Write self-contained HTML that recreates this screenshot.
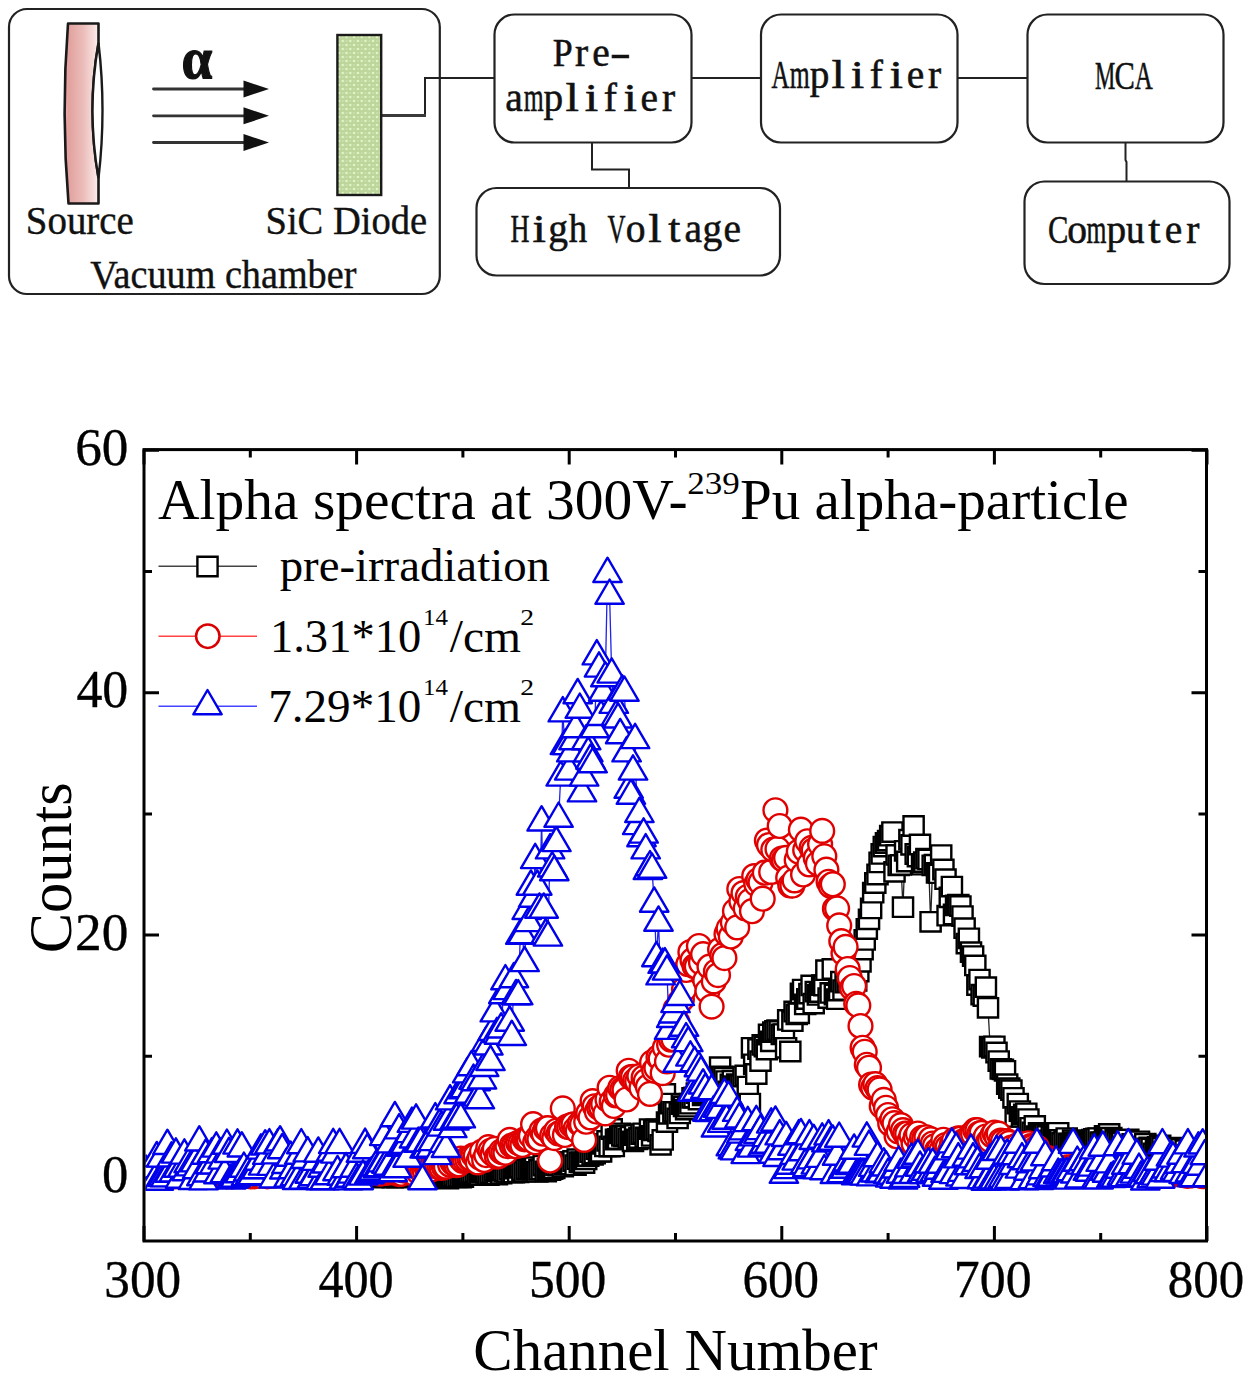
<!DOCTYPE html><html><head><meta charset="utf-8"><style>html,body{margin:0;padding:0;background:#fff;overflow:hidden}svg{display:block}</style></head><body>
<svg width="1250" height="1379" viewBox="0 0 1250 1379">
<defs>
<clipPath id="pc"><rect x="145.5" y="451" width="1059.5" height="788.5"/></clipPath>
<linearGradient id="pk" x1="0" x2="1" y1="0" y2="0"><stop offset="0" stop-color="#f6a8a8"/><stop offset="0.12" stop-color="#e2a19e"/><stop offset="0.55" stop-color="#ebbdba"/><stop offset="0.9" stop-color="#f7e2e0"/><stop offset="1" stop-color="#fdf3f3"/></linearGradient>
<pattern id="dots" width="7.6" height="8" patternUnits="userSpaceOnUse" x="337" y="35"><rect width="7.6" height="8" fill="#bcd59a"/><circle cx="1.9" cy="2" r="1.3" fill="#e3f4c6"/><circle cx="5.7" cy="6" r="1.3" fill="#e3f4c6"/><circle cx="5.7" cy="2" r="0.9" fill="#cfe3b0"/><circle cx="1.9" cy="6" r="0.9" fill="#cfe3b0"/></pattern>
<path id="sq" d="M-10.1,-9.7h20.2v19.4h-20.2z" fill="#fff" stroke="#000" stroke-width="2.4"/>
<circle id="ci" r="11.9" fill="#fff" stroke="#e00000" stroke-width="2.4"/>
<path id="tr" d="M0,-16.2L14.2,8.1L-14.2,8.1z" fill="#fff" stroke="#0000ea" stroke-width="2.4" stroke-linejoin="round"/>
</defs>
<rect width="1250" height="1379" fill="#fff"/>
<g fill="none" stroke="#222" stroke-width="2.2">
<rect x="9" y="9" width="430.8" height="285" rx="18"/>
<rect x="494.5" y="14.5" width="197" height="128" rx="20"/>
<rect x="761" y="14.5" width="196.5" height="128" rx="20"/>
<rect x="1027.5" y="14.5" width="196" height="128" rx="20"/>
<rect x="476.5" y="188" width="303.5" height="87.5" rx="20"/>
<rect x="1024.5" y="181.5" width="205" height="102.5" rx="20"/>
</g>
<g fill="none" stroke="#222" stroke-width="2">
<polyline points="425,115.5 425,78 494.5,78"/>
<line x1="382" y1="115.5" x2="426" y2="115.5" stroke="#3a3a3a" stroke-width="2.8"/>
<line x1="691.5" y1="78" x2="761" y2="78"/>
<line x1="957.5" y1="78" x2="1027.5" y2="78"/>
<polyline points="592,142.5 592,169.5 629,169.5 629,188"/>
<polyline points="1125.5,142.5 1125.5,160 1126.5,162 1126.5,181.5"/>
</g>
<path d="M68,23.5 L98.5,23.5 L98.5,43 Q86.5,110.5 98.5,178 L98.5,203.5 L68.5,203.5 Q61,113.5 68,23.5 Z" fill="url(#pk)" stroke="#1a1a1a" stroke-width="2.6" stroke-linejoin="round"/>
<path d="M98.5,43 Q86.5,110.5 98.5,178 Q106.5,110.5 98.5,43 Z" fill="#fff" stroke="#1a1a1a" stroke-width="2.4"/>
<rect x="337.4" y="35" width="43.8" height="160" fill="url(#dots)" stroke="#1a1a1a" stroke-width="2.4"/>
<line x1="153.5" y1="89.0" x2="246" y2="89.0" stroke="#333" stroke-width="2.8" stroke-linecap="round"/>
<path d="M243.5,80.5 L269,89.0 L243.5,97.5 Z" fill="#111"/>
<line x1="153.5" y1="115.8" x2="246" y2="115.8" stroke="#333" stroke-width="2.8" stroke-linecap="round"/>
<path d="M243.5,107.3 L269,115.8 L243.5,124.3 Z" fill="#111"/>
<line x1="153.5" y1="142.5" x2="246" y2="142.5" stroke="#333" stroke-width="2.8" stroke-linecap="round"/>
<path d="M243.5,134.0 L269,142.5 L243.5,151.0 Z" fill="#111"/>
<text x="181.54" y="78.4" font-family="&apos;Liberation Serif&apos;, serif" font-size="59" font-weight="bold" fill="#111" stroke="#111" stroke-width="1.2" textLength="30.85" lengthAdjust="spacingAndGlyphs">&#945;</text>
<text x="25.84" y="233.6" font-family="&apos;Liberation Serif&apos;, serif" font-size="39.5" fill="#111" stroke="#111" stroke-width="0.4" textLength="108.03" lengthAdjust="spacingAndGlyphs" >Source</text>
<text x="265.46" y="233.6" font-family="&apos;Liberation Serif&apos;, serif" font-size="39.5" fill="#111" stroke="#111" stroke-width="0.4" textLength="161.70" lengthAdjust="spacingAndGlyphs" >SiC Diode</text>
<text x="90.21" y="287.6" font-family="&apos;Liberation Serif&apos;, serif" font-size="39.5" fill="#111" stroke="#111" stroke-width="0.4" textLength="266.16" lengthAdjust="spacingAndGlyphs" >Vacuum chamber</text>
<g font-family="&apos;Liberation Serif&apos;, serif" font-size="39.5" fill="#111" stroke="#111" stroke-width="0.55"><text x="552.70" y="66" textLength="19.92" lengthAdjust="spacingAndGlyphs">P</text><text x="574.95" y="66" textLength="13.15" lengthAdjust="spacingAndGlyphs">r</text><text x="592.20" y="66" textLength="17.53" lengthAdjust="spacingAndGlyphs">e</text><text x="609.67" y="66" textLength="21.28" lengthAdjust="spacingAndGlyphs">-</text></g>
<g font-family="&apos;Liberation Serif&apos;, serif" font-size="39.5" fill="#111" stroke="#111" stroke-width="0.55"><text x="505.15" y="110.8" textLength="17.53" lengthAdjust="spacingAndGlyphs">a</text><text x="523.63" y="110.8" textLength="19.92" lengthAdjust="spacingAndGlyphs">m</text><text x="543.60" y="110.8" textLength="19.64" lengthAdjust="spacingAndGlyphs">p</text><text x="565.52" y="110.8" textLength="13.43" lengthAdjust="spacingAndGlyphs">l</text><text x="584.82" y="110.8" textLength="13.43" lengthAdjust="spacingAndGlyphs">i</text><text x="603.65" y="110.8" textLength="13.15" lengthAdjust="spacingAndGlyphs">f</text><text x="623.42" y="110.8" textLength="13.43" lengthAdjust="spacingAndGlyphs">i</text><text x="640.60" y="110.8" textLength="17.53" lengthAdjust="spacingAndGlyphs">e</text><text x="661.95" y="110.8" textLength="13.15" lengthAdjust="spacingAndGlyphs">r</text></g>
<g font-family="&apos;Liberation Serif&apos;, serif" font-size="39.5" fill="#111" stroke="#111" stroke-width="0.55"><text x="771.40" y="88.4" textLength="17.96" lengthAdjust="spacingAndGlyphs">A</text><text x="789.68" y="88.4" textLength="19.92" lengthAdjust="spacingAndGlyphs">m</text><text x="809.65" y="88.4" textLength="19.64" lengthAdjust="spacingAndGlyphs">p</text><text x="831.57" y="88.4" textLength="13.43" lengthAdjust="spacingAndGlyphs">l</text><text x="850.87" y="88.4" textLength="13.43" lengthAdjust="spacingAndGlyphs">i</text><text x="869.70" y="88.4" textLength="13.15" lengthAdjust="spacingAndGlyphs">f</text><text x="889.47" y="88.4" textLength="13.43" lengthAdjust="spacingAndGlyphs">i</text><text x="906.65" y="88.4" textLength="17.53" lengthAdjust="spacingAndGlyphs">e</text><text x="928.00" y="88.4" textLength="13.15" lengthAdjust="spacingAndGlyphs">r</text></g>
<g font-family="&apos;Liberation Serif&apos;, serif" font-size="39.5" fill="#111" stroke="#111" stroke-width="0.55"><text x="1094.96" y="88.9" textLength="20.28" lengthAdjust="spacingAndGlyphs">M</text><text x="1114.41" y="88.9" textLength="20.40" lengthAdjust="spacingAndGlyphs">C</text><text x="1134.70" y="88.9" textLength="17.96" lengthAdjust="spacingAndGlyphs">A</text></g>
<g font-family="&apos;Liberation Serif&apos;, serif" font-size="39.5" fill="#111" stroke="#111" stroke-width="0.55"><text x="510.47" y="242.1" textLength="18.98" lengthAdjust="spacingAndGlyphs">H</text><text x="532.52" y="242.1" textLength="13.43" lengthAdjust="spacingAndGlyphs">i</text><text x="548.20" y="242.1" textLength="19.75" lengthAdjust="spacingAndGlyphs">g</text><text x="568.73" y="242.1" textLength="18.38" lengthAdjust="spacingAndGlyphs">h</text><text x="607.45" y="242.1" textLength="18.02" lengthAdjust="spacingAndGlyphs">V</text><text x="625.85" y="242.1" textLength="19.75" lengthAdjust="spacingAndGlyphs">o</text><text x="648.32" y="242.1" textLength="13.43" lengthAdjust="spacingAndGlyphs">l</text><text x="668.16" y="242.1" textLength="12.14" lengthAdjust="spacingAndGlyphs">t</text><text x="684.45" y="242.1" textLength="17.53" lengthAdjust="spacingAndGlyphs">a</text><text x="702.60" y="242.1" textLength="19.75" lengthAdjust="spacingAndGlyphs">g</text><text x="723.40" y="242.1" textLength="17.53" lengthAdjust="spacingAndGlyphs">e</text></g>
<g font-family="&apos;Liberation Serif&apos;, serif" font-size="39.5" fill="#111" stroke="#111" stroke-width="0.55"><text x="1047.91" y="242.6" textLength="20.40" lengthAdjust="spacingAndGlyphs">C</text><text x="1067.30" y="242.6" textLength="19.75" lengthAdjust="spacingAndGlyphs">o</text><text x="1086.48" y="242.6" textLength="19.92" lengthAdjust="spacingAndGlyphs">m</text><text x="1106.45" y="242.6" textLength="19.64" lengthAdjust="spacingAndGlyphs">p</text><text x="1125.88" y="242.6" textLength="18.58" lengthAdjust="spacingAndGlyphs">u</text><text x="1148.21" y="242.6" textLength="12.14" lengthAdjust="spacingAndGlyphs">t</text><text x="1164.85" y="242.6" textLength="17.53" lengthAdjust="spacingAndGlyphs">e</text><text x="1186.20" y="242.6" textLength="13.15" lengthAdjust="spacingAndGlyphs">r</text></g>
<path d="M144.0,1241v-15M144.0,449.6v15M250.3,1241v-8M250.3,449.6v8M356.6,1241v-15M356.6,449.6v15M462.9,1241v-8M462.9,449.6v8M569.2,1241v-15M569.2,449.6v15M675.5,1241v-8M675.5,449.6v8M781.8,1241v-15M781.8,449.6v15M888.1,1241v-8M888.1,449.6v8M994.4,1241v-15M994.4,449.6v15M1100.7,1241v-8M1100.7,449.6v8M1207.0,1241v-15M1207.0,449.6v15M144,1177.5h15M1206.5,1177.5h-15M144,1056.3h8M1206.5,1056.3h-8M144,935.1h15M1206.5,935.1h-15M144,813.9h8M1206.5,813.9h-8M144,692.7h15M1206.5,692.7h-15M144,571.5h8M1206.5,571.5h-8M144,450.3h15M1206.5,450.3h-15" stroke="#000" stroke-width="3" fill="none"/>
<g clip-path="url(#pc)">
<polyline points="144.0,1172.8 146.1,1172.6 148.3,1174.4 150.4,1175.5 152.5,1176.0 154.6,1174.5 156.8,1175.9 158.9,1176.5 161.0,1174.3 163.1,1174.4 165.3,1173.9 167.4,1175.8 169.5,1174.6 171.6,1174.7 173.8,1176.6 175.9,1174.0 178.0,1174.3 180.1,1172.6 182.3,1174.4 184.4,1174.9 186.5,1173.1 188.6,1174.5 190.8,1173.6 192.9,1175.3 195.0,1174.5 197.2,1173.5 199.3,1173.9 201.4,1174.7 203.5,1176.2 205.7,1174.3 207.8,1174.8 209.9,1174.0 212.0,1174.6 214.2,1173.5 216.3,1175.0 218.4,1174.7 220.5,1174.1 222.7,1176.3 224.8,1175.5 226.9,1175.6 229.0,1173.0 231.2,1175.1 233.3,1174.2 235.4,1174.3 237.5,1175.4 239.7,1177.0 241.8,1173.9 243.9,1175.6 246.0,1174.2 248.2,1176.8 250.3,1175.7 252.4,1173.6 254.6,1173.4 256.7,1176.8 258.8,1176.8 260.9,1175.3 263.1,1174.3 265.2,1175.0 267.3,1174.9 269.4,1176.5 271.6,1174.6 273.7,1173.9 275.8,1175.8 277.9,1177.1 280.1,1176.3 282.2,1174.4 284.3,1177.3 286.4,1175.5 288.6,1176.6 290.7,1175.6 292.8,1175.7 294.9,1175.4 297.1,1173.6 299.2,1174.9 301.3,1173.9 303.4,1175.6 305.6,1176.1 307.7,1175.1 309.8,1177.4 312.0,1175.6 314.1,1175.4 316.2,1177.0 318.3,1175.0 320.5,1176.2 322.6,1177.5 324.7,1175.9 326.8,1176.8 329.0,1176.3 331.1,1175.8 333.2,1174.2 335.3,1175.6 337.5,1175.7 339.6,1175.3 341.7,1177.5 343.8,1174.3 346.0,1177.0 348.1,1175.3 350.2,1177.1 352.3,1176.9 354.5,1176.3 356.6,1174.0 358.7,1175.0 360.9,1176.5 363.0,1176.2 365.1,1177.2 367.2,1175.9 369.4,1176.5 371.5,1175.1 373.6,1177.5 375.7,1176.3 377.9,1176.9 380.0,1176.8 382.1,1175.2 384.2,1175.9 386.4,1175.4 388.5,1174.7 390.6,1174.8 392.7,1177.5 394.9,1175.5 397.0,1177.5 399.1,1176.2 401.2,1174.3 403.4,1176.3 405.5,1176.5 407.6,1176.0 409.8,1176.1 411.9,1176.1 414.0,1177.0 416.1,1175.0 418.3,1175.2 420.4,1176.4 422.5,1175.9 424.6,1175.5 426.8,1175.2 428.9,1175.9 431.0,1175.5 433.1,1176.7 435.3,1177.5 437.4,1177.1 439.5,1175.8 441.6,1176.0 443.8,1176.9 445.9,1177.5 448.0,1178.7 450.1,1177.1 452.3,1176.5 454.4,1176.0 456.5,1177.4 458.6,1176.5 460.8,1177.5 462.9,1177.0 465.0,1175.1 467.2,1174.9 469.3,1173.3 471.4,1172.5 473.5,1172.7 475.7,1171.9 477.8,1174.5 479.9,1175.2 482.0,1172.8 484.2,1171.1 486.3,1172.9 488.4,1175.0 490.5,1173.3 492.7,1172.8 494.8,1170.9 496.9,1174.5 499.0,1171.7 501.2,1173.7 503.3,1170.8 505.4,1171.5 507.5,1171.9 509.7,1169.5 511.8,1172.4 513.9,1172.6 516.0,1168.5 518.2,1172.3 520.3,1167.8 522.4,1170.3 524.6,1171.7 526.7,1169.6 528.8,1169.3 530.9,1169.0 533.1,1169.6 535.2,1167.2 537.3,1171.9 539.4,1169.9 541.6,1169.3 543.7,1165.7 545.8,1171.5 547.9,1169.0 550.1,1170.2 552.2,1169.0 554.3,1168.4 556.4,1165.4 558.6,1165.5 560.7,1162.9 562.8,1166.7 564.9,1164.5 567.1,1162.1 569.2,1162.2 571.3,1164.5 573.5,1161.0 575.6,1165.2 577.7,1159.2 579.8,1162.1 582.0,1162.3 584.1,1163.0 586.2,1159.3 588.3,1156.0 590.5,1152.2 592.6,1154.8 594.7,1153.6 596.8,1149.2 599.0,1151.5 601.1,1151.8 603.2,1143.8 605.3,1146.4 607.5,1140.9 609.6,1146.5 611.7,1129.0 613.8,1146.4 616.0,1139.5 618.1,1139.0 620.2,1133.3 622.3,1135.8 624.5,1136.4 626.6,1135.4 628.7,1138.3 630.9,1136.8 633.0,1141.3 635.1,1135.1 637.2,1139.3 639.4,1138.0 641.5,1134.1 643.6,1133.3 645.7,1137.5 647.9,1138.4 650.0,1129.1 652.1,1135.9 654.2,1130.4 656.4,1129.4 658.5,1131.3 660.6,1144.8 662.7,1139.9 664.9,1093.9 667.0,1122.1 669.1,1113.8 671.2,1103.6 673.4,1111.8 675.5,1111.9 677.6,1118.4 679.8,1113.4 681.9,1104.1 684.0,1106.4 686.1,1109.6 688.3,1106.7 690.4,1103.7 692.5,1097.8 694.6,1097.5 696.8,1093.2 698.9,1099.6 701.0,1090.3 703.1,1095.4 705.3,1093.0 707.4,1083.0 709.5,1088.4 711.6,1088.0 713.8,1086.8 715.9,1086.2 718.0,1087.8 720.1,1067.2 722.3,1076.4 724.4,1077.7 726.5,1081.1 728.6,1091.4 730.8,1084.3 732.9,1080.7 735.0,1086.2 737.2,1084.2 739.3,1084.8 741.4,1085.0 743.5,1076.7 745.7,1075.5 747.8,1086.6 749.9,1103.6 752.0,1047.8 754.2,1064.3 756.3,1074.0 758.4,1049.0 760.5,1061.1 762.7,1044.9 764.8,1046.5 766.9,1049.6 769.0,1034.5 771.2,1041.3 773.3,1032.1 775.4,1031.0 777.5,1030.1 779.7,1031.1 781.8,1034.3 783.9,1034.1 786.1,1047.8 788.2,1019.9 790.3,1051.5 792.4,1021.2 794.6,1011.5 796.7,1014.4 798.8,1013.3 800.9,993.3 803.1,989.6 805.2,1004.4 807.3,999.0 809.4,993.6 811.6,985.4 813.7,1003.6 815.8,991.7 817.9,994.9 820.1,992.1 822.2,985.1 824.3,985.5 826.4,970.2 828.6,998.1 830.7,992.9 832.8,969.0 834.9,994.5 837.1,999.2 839.2,990.5 841.3,981.7 843.5,990.1 845.6,982.7 847.7,981.5 849.8,982.2 852.0,976.6 854.1,980.3 856.2,980.9 858.3,971.5 860.5,961.8 862.6,949.6 864.7,939.9 866.8,929.0 869.0,919.3 871.1,908.4 873.2,892.7 875.3,883.0 877.5,874.5 879.6,862.4 881.7,853.9 883.8,846.6 886.0,843.0 888.1,840.6 890.2,835.7 892.4,832.1 894.5,871.8 896.6,854.9 898.7,865.3 900.9,864.9 903.0,907.2 905.1,850.8 907.2,861.5 909.4,839.7 911.5,844.8 913.6,826.0 915.7,854.0 917.9,856.6 920.0,844.5 922.1,864.7 924.2,862.1 926.4,858.7 928.5,859.4 930.6,921.8 932.7,865.4 934.9,864.7 937.0,872.9 939.1,873.2 941.2,855.1 943.4,869.5 945.5,879.2 947.6,915.7 949.8,897.3 951.9,886.6 954.0,914.4 956.1,905.4 958.3,904.7 960.4,906.1 962.5,916.1 964.6,928.2 966.8,943.6 968.9,938.3 971.0,952.2 973.1,956.1 975.3,965.4 977.4,985.0 979.5,979.6 981.6,994.6 983.8,996.0 985.9,987.2 988.0,1007.8 990.1,1046.6 992.3,1047.8 994.4,1046.3 996.5,1052.5 998.7,1061.1 1000.8,1068.9 1002.9,1069.3 1005.0,1070.8 1007.2,1084.2 1009.3,1088.2 1011.4,1090.2 1013.5,1097.8 1015.7,1116.9 1017.8,1103.6 1019.9,1111.1 1022.0,1116.9 1024.2,1114.5 1026.3,1113.3 1028.4,1119.1 1030.5,1127.8 1032.7,1132.3 1034.8,1125.9 1036.9,1136.2 1039.0,1132.9 1041.2,1134.8 1043.3,1135.3 1045.4,1133.4 1047.5,1136.0 1049.7,1140.4 1051.8,1136.3 1053.9,1136.9 1056.1,1136.2 1058.2,1132.8 1060.3,1139.9 1062.4,1142.9 1064.6,1140.9 1066.7,1138.1 1068.8,1143.5 1070.9,1143.6 1073.1,1140.2 1075.2,1142.5 1077.3,1142.3 1079.4,1143.6 1081.6,1145.1 1083.7,1145.2 1085.8,1143.3 1087.9,1142.3 1090.1,1142.4 1092.2,1139.6 1094.3,1138.8 1096.4,1138.4 1098.6,1138.1 1100.7,1142.1 1102.8,1142.4 1105.0,1135.8 1107.1,1137.9 1109.2,1133.9 1111.3,1137.7 1113.5,1142.4 1115.6,1140.0 1117.7,1141.9 1119.8,1143.3 1122.0,1143.1 1124.1,1146.4 1126.2,1142.1 1128.3,1139.4 1130.5,1145.7 1132.6,1143.9 1134.7,1148.0 1136.8,1143.4 1139.0,1141.3 1141.1,1150.2 1143.2,1147.9 1145.3,1143.7 1147.5,1148.4 1149.6,1147.5 1151.7,1148.5 1153.8,1153.5 1156.0,1149.6 1158.1,1146.8 1160.2,1145.5 1162.4,1147.9 1164.5,1151.5 1166.6,1152.0 1168.7,1154.7 1170.9,1153.5 1173.0,1149.6 1175.1,1147.7 1177.2,1151.7 1179.4,1155.6 1181.5,1149.0 1183.6,1157.4 1185.7,1150.3 1187.9,1155.1 1190.0,1153.9 1192.1,1153.6 1194.2,1155.3 1196.4,1153.3 1198.5,1157.0 1200.6,1158.4 1202.7,1159.8 1204.9,1162.2 1207.0,1161.0" fill="none" stroke="#222" stroke-width="1.3"/>
<use href="#sq" x="144.0" y="1172.8"/>
<use href="#sq" x="146.1" y="1172.6"/>
<use href="#sq" x="148.3" y="1174.4"/>
<use href="#sq" x="150.4" y="1175.5"/>
<use href="#sq" x="152.5" y="1176.0"/>
<use href="#sq" x="154.6" y="1174.5"/>
<use href="#sq" x="156.8" y="1175.9"/>
<use href="#sq" x="158.9" y="1176.5"/>
<use href="#sq" x="161.0" y="1174.3"/>
<use href="#sq" x="163.1" y="1174.4"/>
<use href="#sq" x="165.3" y="1173.9"/>
<use href="#sq" x="167.4" y="1175.8"/>
<use href="#sq" x="169.5" y="1174.6"/>
<use href="#sq" x="171.6" y="1174.7"/>
<use href="#sq" x="173.8" y="1176.6"/>
<use href="#sq" x="175.9" y="1174.0"/>
<use href="#sq" x="178.0" y="1174.3"/>
<use href="#sq" x="180.1" y="1172.6"/>
<use href="#sq" x="182.3" y="1174.4"/>
<use href="#sq" x="184.4" y="1174.9"/>
<use href="#sq" x="186.5" y="1173.1"/>
<use href="#sq" x="188.6" y="1174.5"/>
<use href="#sq" x="190.8" y="1173.6"/>
<use href="#sq" x="192.9" y="1175.3"/>
<use href="#sq" x="195.0" y="1174.5"/>
<use href="#sq" x="197.2" y="1173.5"/>
<use href="#sq" x="199.3" y="1173.9"/>
<use href="#sq" x="201.4" y="1174.7"/>
<use href="#sq" x="203.5" y="1176.2"/>
<use href="#sq" x="205.7" y="1174.3"/>
<use href="#sq" x="207.8" y="1174.8"/>
<use href="#sq" x="209.9" y="1174.0"/>
<use href="#sq" x="212.0" y="1174.6"/>
<use href="#sq" x="214.2" y="1173.5"/>
<use href="#sq" x="216.3" y="1175.0"/>
<use href="#sq" x="218.4" y="1174.7"/>
<use href="#sq" x="220.5" y="1174.1"/>
<use href="#sq" x="222.7" y="1176.3"/>
<use href="#sq" x="224.8" y="1175.5"/>
<use href="#sq" x="226.9" y="1175.6"/>
<use href="#sq" x="229.0" y="1173.0"/>
<use href="#sq" x="231.2" y="1175.1"/>
<use href="#sq" x="233.3" y="1174.2"/>
<use href="#sq" x="235.4" y="1174.3"/>
<use href="#sq" x="237.5" y="1175.4"/>
<use href="#sq" x="239.7" y="1177.0"/>
<use href="#sq" x="241.8" y="1173.9"/>
<use href="#sq" x="243.9" y="1175.6"/>
<use href="#sq" x="246.0" y="1174.2"/>
<use href="#sq" x="248.2" y="1176.8"/>
<use href="#sq" x="250.3" y="1175.7"/>
<use href="#sq" x="252.4" y="1173.6"/>
<use href="#sq" x="254.6" y="1173.4"/>
<use href="#sq" x="256.7" y="1176.8"/>
<use href="#sq" x="258.8" y="1176.8"/>
<use href="#sq" x="260.9" y="1175.3"/>
<use href="#sq" x="263.1" y="1174.3"/>
<use href="#sq" x="265.2" y="1175.0"/>
<use href="#sq" x="267.3" y="1174.9"/>
<use href="#sq" x="269.4" y="1176.5"/>
<use href="#sq" x="271.6" y="1174.6"/>
<use href="#sq" x="273.7" y="1173.9"/>
<use href="#sq" x="275.8" y="1175.8"/>
<use href="#sq" x="277.9" y="1177.1"/>
<use href="#sq" x="280.1" y="1176.3"/>
<use href="#sq" x="282.2" y="1174.4"/>
<use href="#sq" x="284.3" y="1177.3"/>
<use href="#sq" x="286.4" y="1175.5"/>
<use href="#sq" x="288.6" y="1176.6"/>
<use href="#sq" x="290.7" y="1175.6"/>
<use href="#sq" x="292.8" y="1175.7"/>
<use href="#sq" x="294.9" y="1175.4"/>
<use href="#sq" x="297.1" y="1173.6"/>
<use href="#sq" x="299.2" y="1174.9"/>
<use href="#sq" x="301.3" y="1173.9"/>
<use href="#sq" x="303.4" y="1175.6"/>
<use href="#sq" x="305.6" y="1176.1"/>
<use href="#sq" x="307.7" y="1175.1"/>
<use href="#sq" x="309.8" y="1177.4"/>
<use href="#sq" x="312.0" y="1175.6"/>
<use href="#sq" x="314.1" y="1175.4"/>
<use href="#sq" x="316.2" y="1177.0"/>
<use href="#sq" x="318.3" y="1175.0"/>
<use href="#sq" x="320.5" y="1176.2"/>
<use href="#sq" x="322.6" y="1177.5"/>
<use href="#sq" x="324.7" y="1175.9"/>
<use href="#sq" x="326.8" y="1176.8"/>
<use href="#sq" x="329.0" y="1176.3"/>
<use href="#sq" x="331.1" y="1175.8"/>
<use href="#sq" x="333.2" y="1174.2"/>
<use href="#sq" x="335.3" y="1175.6"/>
<use href="#sq" x="337.5" y="1175.7"/>
<use href="#sq" x="339.6" y="1175.3"/>
<use href="#sq" x="341.7" y="1177.5"/>
<use href="#sq" x="343.8" y="1174.3"/>
<use href="#sq" x="346.0" y="1177.0"/>
<use href="#sq" x="348.1" y="1175.3"/>
<use href="#sq" x="350.2" y="1177.1"/>
<use href="#sq" x="352.3" y="1176.9"/>
<use href="#sq" x="354.5" y="1176.3"/>
<use href="#sq" x="356.6" y="1174.0"/>
<use href="#sq" x="358.7" y="1175.0"/>
<use href="#sq" x="360.9" y="1176.5"/>
<use href="#sq" x="363.0" y="1176.2"/>
<use href="#sq" x="365.1" y="1177.2"/>
<use href="#sq" x="367.2" y="1175.9"/>
<use href="#sq" x="369.4" y="1176.5"/>
<use href="#sq" x="371.5" y="1175.1"/>
<use href="#sq" x="373.6" y="1177.5"/>
<use href="#sq" x="375.7" y="1176.3"/>
<use href="#sq" x="377.9" y="1176.9"/>
<use href="#sq" x="380.0" y="1176.8"/>
<use href="#sq" x="382.1" y="1175.2"/>
<use href="#sq" x="384.2" y="1175.9"/>
<use href="#sq" x="386.4" y="1175.4"/>
<use href="#sq" x="388.5" y="1174.7"/>
<use href="#sq" x="390.6" y="1174.8"/>
<use href="#sq" x="392.7" y="1177.5"/>
<use href="#sq" x="394.9" y="1175.5"/>
<use href="#sq" x="397.0" y="1177.5"/>
<use href="#sq" x="399.1" y="1176.2"/>
<use href="#sq" x="401.2" y="1174.3"/>
<use href="#sq" x="403.4" y="1176.3"/>
<use href="#sq" x="405.5" y="1176.5"/>
<use href="#sq" x="407.6" y="1176.0"/>
<use href="#sq" x="409.8" y="1176.1"/>
<use href="#sq" x="411.9" y="1176.1"/>
<use href="#sq" x="414.0" y="1177.0"/>
<use href="#sq" x="416.1" y="1175.0"/>
<use href="#sq" x="418.3" y="1175.2"/>
<use href="#sq" x="420.4" y="1176.4"/>
<use href="#sq" x="422.5" y="1175.9"/>
<use href="#sq" x="424.6" y="1175.5"/>
<use href="#sq" x="426.8" y="1175.2"/>
<use href="#sq" x="428.9" y="1175.9"/>
<use href="#sq" x="431.0" y="1175.5"/>
<use href="#sq" x="433.1" y="1176.7"/>
<use href="#sq" x="435.3" y="1177.5"/>
<use href="#sq" x="437.4" y="1177.1"/>
<use href="#sq" x="439.5" y="1175.8"/>
<use href="#sq" x="441.6" y="1176.0"/>
<use href="#sq" x="443.8" y="1176.9"/>
<use href="#sq" x="445.9" y="1177.5"/>
<use href="#sq" x="448.0" y="1178.7"/>
<use href="#sq" x="450.1" y="1177.1"/>
<use href="#sq" x="452.3" y="1176.5"/>
<use href="#sq" x="454.4" y="1176.0"/>
<use href="#sq" x="456.5" y="1177.4"/>
<use href="#sq" x="458.6" y="1176.5"/>
<use href="#sq" x="460.8" y="1177.5"/>
<use href="#sq" x="462.9" y="1177.0"/>
<use href="#sq" x="465.0" y="1175.1"/>
<use href="#sq" x="467.2" y="1174.9"/>
<use href="#sq" x="469.3" y="1173.3"/>
<use href="#sq" x="471.4" y="1172.5"/>
<use href="#sq" x="473.5" y="1172.7"/>
<use href="#sq" x="475.7" y="1171.9"/>
<use href="#sq" x="477.8" y="1174.5"/>
<use href="#sq" x="479.9" y="1175.2"/>
<use href="#sq" x="482.0" y="1172.8"/>
<use href="#sq" x="484.2" y="1171.1"/>
<use href="#sq" x="486.3" y="1172.9"/>
<use href="#sq" x="488.4" y="1175.0"/>
<use href="#sq" x="490.5" y="1173.3"/>
<use href="#sq" x="492.7" y="1172.8"/>
<use href="#sq" x="494.8" y="1170.9"/>
<use href="#sq" x="496.9" y="1174.5"/>
<use href="#sq" x="499.0" y="1171.7"/>
<use href="#sq" x="501.2" y="1173.7"/>
<use href="#sq" x="503.3" y="1170.8"/>
<use href="#sq" x="505.4" y="1171.5"/>
<use href="#sq" x="507.5" y="1171.9"/>
<use href="#sq" x="509.7" y="1169.5"/>
<use href="#sq" x="511.8" y="1172.4"/>
<use href="#sq" x="513.9" y="1172.6"/>
<use href="#sq" x="516.0" y="1168.5"/>
<use href="#sq" x="518.2" y="1172.3"/>
<use href="#sq" x="520.3" y="1167.8"/>
<use href="#sq" x="522.4" y="1170.3"/>
<use href="#sq" x="524.6" y="1171.7"/>
<use href="#sq" x="526.7" y="1169.6"/>
<use href="#sq" x="528.8" y="1169.3"/>
<use href="#sq" x="530.9" y="1169.0"/>
<use href="#sq" x="533.1" y="1169.6"/>
<use href="#sq" x="535.2" y="1167.2"/>
<use href="#sq" x="537.3" y="1171.9"/>
<use href="#sq" x="539.4" y="1169.9"/>
<use href="#sq" x="541.6" y="1169.3"/>
<use href="#sq" x="543.7" y="1165.7"/>
<use href="#sq" x="545.8" y="1171.5"/>
<use href="#sq" x="547.9" y="1169.0"/>
<use href="#sq" x="550.1" y="1170.2"/>
<use href="#sq" x="552.2" y="1169.0"/>
<use href="#sq" x="554.3" y="1168.4"/>
<use href="#sq" x="556.4" y="1165.4"/>
<use href="#sq" x="558.6" y="1165.5"/>
<use href="#sq" x="560.7" y="1162.9"/>
<use href="#sq" x="562.8" y="1166.7"/>
<use href="#sq" x="564.9" y="1164.5"/>
<use href="#sq" x="567.1" y="1162.1"/>
<use href="#sq" x="569.2" y="1162.2"/>
<use href="#sq" x="571.3" y="1164.5"/>
<use href="#sq" x="573.5" y="1161.0"/>
<use href="#sq" x="575.6" y="1165.2"/>
<use href="#sq" x="577.7" y="1159.2"/>
<use href="#sq" x="579.8" y="1162.1"/>
<use href="#sq" x="582.0" y="1162.3"/>
<use href="#sq" x="584.1" y="1163.0"/>
<use href="#sq" x="586.2" y="1159.3"/>
<use href="#sq" x="588.3" y="1156.0"/>
<use href="#sq" x="590.5" y="1152.2"/>
<use href="#sq" x="592.6" y="1154.8"/>
<use href="#sq" x="594.7" y="1153.6"/>
<use href="#sq" x="596.8" y="1149.2"/>
<use href="#sq" x="599.0" y="1151.5"/>
<use href="#sq" x="601.1" y="1151.8"/>
<use href="#sq" x="603.2" y="1143.8"/>
<use href="#sq" x="605.3" y="1146.4"/>
<use href="#sq" x="607.5" y="1140.9"/>
<use href="#sq" x="609.6" y="1146.5"/>
<use href="#sq" x="611.7" y="1129.0"/>
<use href="#sq" x="613.8" y="1146.4"/>
<use href="#sq" x="616.0" y="1139.5"/>
<use href="#sq" x="618.1" y="1139.0"/>
<use href="#sq" x="620.2" y="1133.3"/>
<use href="#sq" x="622.3" y="1135.8"/>
<use href="#sq" x="624.5" y="1136.4"/>
<use href="#sq" x="626.6" y="1135.4"/>
<use href="#sq" x="628.7" y="1138.3"/>
<use href="#sq" x="630.9" y="1136.8"/>
<use href="#sq" x="633.0" y="1141.3"/>
<use href="#sq" x="635.1" y="1135.1"/>
<use href="#sq" x="637.2" y="1139.3"/>
<use href="#sq" x="639.4" y="1138.0"/>
<use href="#sq" x="641.5" y="1134.1"/>
<use href="#sq" x="643.6" y="1133.3"/>
<use href="#sq" x="645.7" y="1137.5"/>
<use href="#sq" x="647.9" y="1138.4"/>
<use href="#sq" x="650.0" y="1129.1"/>
<use href="#sq" x="652.1" y="1135.9"/>
<use href="#sq" x="654.2" y="1130.4"/>
<use href="#sq" x="656.4" y="1129.4"/>
<use href="#sq" x="658.5" y="1131.3"/>
<use href="#sq" x="660.6" y="1144.8"/>
<use href="#sq" x="662.7" y="1139.9"/>
<use href="#sq" x="664.9" y="1093.9"/>
<use href="#sq" x="667.0" y="1122.1"/>
<use href="#sq" x="669.1" y="1113.8"/>
<use href="#sq" x="671.2" y="1103.6"/>
<use href="#sq" x="673.4" y="1111.8"/>
<use href="#sq" x="675.5" y="1111.9"/>
<use href="#sq" x="677.6" y="1118.4"/>
<use href="#sq" x="679.8" y="1113.4"/>
<use href="#sq" x="681.9" y="1104.1"/>
<use href="#sq" x="684.0" y="1106.4"/>
<use href="#sq" x="686.1" y="1109.6"/>
<use href="#sq" x="688.3" y="1106.7"/>
<use href="#sq" x="690.4" y="1103.7"/>
<use href="#sq" x="692.5" y="1097.8"/>
<use href="#sq" x="694.6" y="1097.5"/>
<use href="#sq" x="696.8" y="1093.2"/>
<use href="#sq" x="698.9" y="1099.6"/>
<use href="#sq" x="701.0" y="1090.3"/>
<use href="#sq" x="703.1" y="1095.4"/>
<use href="#sq" x="705.3" y="1093.0"/>
<use href="#sq" x="707.4" y="1083.0"/>
<use href="#sq" x="709.5" y="1088.4"/>
<use href="#sq" x="711.6" y="1088.0"/>
<use href="#sq" x="713.8" y="1086.8"/>
<use href="#sq" x="715.9" y="1086.2"/>
<use href="#sq" x="718.0" y="1087.8"/>
<use href="#sq" x="720.1" y="1067.2"/>
<use href="#sq" x="722.3" y="1076.4"/>
<use href="#sq" x="724.4" y="1077.7"/>
<use href="#sq" x="726.5" y="1081.1"/>
<use href="#sq" x="728.6" y="1091.4"/>
<use href="#sq" x="730.8" y="1084.3"/>
<use href="#sq" x="732.9" y="1080.7"/>
<use href="#sq" x="735.0" y="1086.2"/>
<use href="#sq" x="737.2" y="1084.2"/>
<use href="#sq" x="739.3" y="1084.8"/>
<use href="#sq" x="741.4" y="1085.0"/>
<use href="#sq" x="743.5" y="1076.7"/>
<use href="#sq" x="745.7" y="1075.5"/>
<use href="#sq" x="747.8" y="1086.6"/>
<use href="#sq" x="749.9" y="1103.6"/>
<use href="#sq" x="752.0" y="1047.8"/>
<use href="#sq" x="754.2" y="1064.3"/>
<use href="#sq" x="756.3" y="1074.0"/>
<use href="#sq" x="758.4" y="1049.0"/>
<use href="#sq" x="760.5" y="1061.1"/>
<use href="#sq" x="762.7" y="1044.9"/>
<use href="#sq" x="764.8" y="1046.5"/>
<use href="#sq" x="766.9" y="1049.6"/>
<use href="#sq" x="769.0" y="1034.5"/>
<use href="#sq" x="771.2" y="1041.3"/>
<use href="#sq" x="773.3" y="1032.1"/>
<use href="#sq" x="775.4" y="1031.0"/>
<use href="#sq" x="777.5" y="1030.1"/>
<use href="#sq" x="779.7" y="1031.1"/>
<use href="#sq" x="781.8" y="1034.3"/>
<use href="#sq" x="783.9" y="1034.1"/>
<use href="#sq" x="786.1" y="1047.8"/>
<use href="#sq" x="788.2" y="1019.9"/>
<use href="#sq" x="790.3" y="1051.5"/>
<use href="#sq" x="792.4" y="1021.2"/>
<use href="#sq" x="794.6" y="1011.5"/>
<use href="#sq" x="796.7" y="1014.4"/>
<use href="#sq" x="798.8" y="1013.3"/>
<use href="#sq" x="800.9" y="993.3"/>
<use href="#sq" x="803.1" y="989.6"/>
<use href="#sq" x="805.2" y="1004.4"/>
<use href="#sq" x="807.3" y="999.0"/>
<use href="#sq" x="809.4" y="993.6"/>
<use href="#sq" x="811.6" y="985.4"/>
<use href="#sq" x="813.7" y="1003.6"/>
<use href="#sq" x="815.8" y="991.7"/>
<use href="#sq" x="817.9" y="994.9"/>
<use href="#sq" x="820.1" y="992.1"/>
<use href="#sq" x="822.2" y="985.1"/>
<use href="#sq" x="824.3" y="985.5"/>
<use href="#sq" x="826.4" y="970.2"/>
<use href="#sq" x="828.6" y="998.1"/>
<use href="#sq" x="830.7" y="992.9"/>
<use href="#sq" x="832.8" y="969.0"/>
<use href="#sq" x="834.9" y="994.5"/>
<use href="#sq" x="837.1" y="999.2"/>
<use href="#sq" x="839.2" y="990.5"/>
<use href="#sq" x="841.3" y="981.7"/>
<use href="#sq" x="843.5" y="990.1"/>
<use href="#sq" x="845.6" y="982.7"/>
<use href="#sq" x="847.7" y="981.5"/>
<use href="#sq" x="849.8" y="982.2"/>
<use href="#sq" x="852.0" y="976.6"/>
<use href="#sq" x="854.1" y="980.3"/>
<use href="#sq" x="856.2" y="980.9"/>
<use href="#sq" x="858.3" y="971.5"/>
<use href="#sq" x="860.5" y="961.8"/>
<use href="#sq" x="862.6" y="949.6"/>
<use href="#sq" x="864.7" y="939.9"/>
<use href="#sq" x="866.8" y="929.0"/>
<use href="#sq" x="869.0" y="919.3"/>
<use href="#sq" x="871.1" y="908.4"/>
<use href="#sq" x="873.2" y="892.7"/>
<use href="#sq" x="875.3" y="883.0"/>
<use href="#sq" x="877.5" y="874.5"/>
<use href="#sq" x="879.6" y="862.4"/>
<use href="#sq" x="881.7" y="853.9"/>
<use href="#sq" x="883.8" y="846.6"/>
<use href="#sq" x="886.0" y="843.0"/>
<use href="#sq" x="888.1" y="840.6"/>
<use href="#sq" x="890.2" y="835.7"/>
<use href="#sq" x="892.4" y="832.1"/>
<use href="#sq" x="894.5" y="871.8"/>
<use href="#sq" x="896.6" y="854.9"/>
<use href="#sq" x="898.7" y="865.3"/>
<use href="#sq" x="900.9" y="864.9"/>
<use href="#sq" x="903.0" y="907.2"/>
<use href="#sq" x="905.1" y="850.8"/>
<use href="#sq" x="907.2" y="861.5"/>
<use href="#sq" x="909.4" y="839.7"/>
<use href="#sq" x="911.5" y="844.8"/>
<use href="#sq" x="913.6" y="826.0"/>
<use href="#sq" x="915.7" y="854.0"/>
<use href="#sq" x="917.9" y="856.6"/>
<use href="#sq" x="920.0" y="844.5"/>
<use href="#sq" x="922.1" y="864.7"/>
<use href="#sq" x="924.2" y="862.1"/>
<use href="#sq" x="926.4" y="858.7"/>
<use href="#sq" x="928.5" y="859.4"/>
<use href="#sq" x="930.6" y="921.8"/>
<use href="#sq" x="932.7" y="865.4"/>
<use href="#sq" x="934.9" y="864.7"/>
<use href="#sq" x="937.0" y="872.9"/>
<use href="#sq" x="939.1" y="873.2"/>
<use href="#sq" x="941.2" y="855.1"/>
<use href="#sq" x="943.4" y="869.5"/>
<use href="#sq" x="945.5" y="879.2"/>
<use href="#sq" x="947.6" y="915.7"/>
<use href="#sq" x="949.8" y="897.3"/>
<use href="#sq" x="951.9" y="886.6"/>
<use href="#sq" x="954.0" y="914.4"/>
<use href="#sq" x="956.1" y="905.4"/>
<use href="#sq" x="958.3" y="904.7"/>
<use href="#sq" x="960.4" y="906.1"/>
<use href="#sq" x="962.5" y="916.1"/>
<use href="#sq" x="964.6" y="928.2"/>
<use href="#sq" x="966.8" y="943.6"/>
<use href="#sq" x="968.9" y="938.3"/>
<use href="#sq" x="971.0" y="952.2"/>
<use href="#sq" x="973.1" y="956.1"/>
<use href="#sq" x="975.3" y="965.4"/>
<use href="#sq" x="977.4" y="985.0"/>
<use href="#sq" x="979.5" y="979.6"/>
<use href="#sq" x="981.6" y="994.6"/>
<use href="#sq" x="983.8" y="996.0"/>
<use href="#sq" x="985.9" y="987.2"/>
<use href="#sq" x="988.0" y="1007.8"/>
<use href="#sq" x="990.1" y="1046.6"/>
<use href="#sq" x="992.3" y="1047.8"/>
<use href="#sq" x="994.4" y="1046.3"/>
<use href="#sq" x="996.5" y="1052.5"/>
<use href="#sq" x="998.7" y="1061.1"/>
<use href="#sq" x="1000.8" y="1068.9"/>
<use href="#sq" x="1002.9" y="1069.3"/>
<use href="#sq" x="1005.0" y="1070.8"/>
<use href="#sq" x="1007.2" y="1084.2"/>
<use href="#sq" x="1009.3" y="1088.2"/>
<use href="#sq" x="1011.4" y="1090.2"/>
<use href="#sq" x="1013.5" y="1097.8"/>
<use href="#sq" x="1015.7" y="1116.9"/>
<use href="#sq" x="1017.8" y="1103.6"/>
<use href="#sq" x="1019.9" y="1111.1"/>
<use href="#sq" x="1022.0" y="1116.9"/>
<use href="#sq" x="1024.2" y="1114.5"/>
<use href="#sq" x="1026.3" y="1113.3"/>
<use href="#sq" x="1028.4" y="1119.1"/>
<use href="#sq" x="1030.5" y="1127.8"/>
<use href="#sq" x="1032.7" y="1132.3"/>
<use href="#sq" x="1034.8" y="1125.9"/>
<use href="#sq" x="1036.9" y="1136.2"/>
<use href="#sq" x="1039.0" y="1132.9"/>
<use href="#sq" x="1041.2" y="1134.8"/>
<use href="#sq" x="1043.3" y="1135.3"/>
<use href="#sq" x="1045.4" y="1133.4"/>
<use href="#sq" x="1047.5" y="1136.0"/>
<use href="#sq" x="1049.7" y="1140.4"/>
<use href="#sq" x="1051.8" y="1136.3"/>
<use href="#sq" x="1053.9" y="1136.9"/>
<use href="#sq" x="1056.1" y="1136.2"/>
<use href="#sq" x="1058.2" y="1132.8"/>
<use href="#sq" x="1060.3" y="1139.9"/>
<use href="#sq" x="1062.4" y="1142.9"/>
<use href="#sq" x="1064.6" y="1140.9"/>
<use href="#sq" x="1066.7" y="1138.1"/>
<use href="#sq" x="1068.8" y="1143.5"/>
<use href="#sq" x="1070.9" y="1143.6"/>
<use href="#sq" x="1073.1" y="1140.2"/>
<use href="#sq" x="1075.2" y="1142.5"/>
<use href="#sq" x="1077.3" y="1142.3"/>
<use href="#sq" x="1079.4" y="1143.6"/>
<use href="#sq" x="1081.6" y="1145.1"/>
<use href="#sq" x="1083.7" y="1145.2"/>
<use href="#sq" x="1085.8" y="1143.3"/>
<use href="#sq" x="1087.9" y="1142.3"/>
<use href="#sq" x="1090.1" y="1142.4"/>
<use href="#sq" x="1092.2" y="1139.6"/>
<use href="#sq" x="1094.3" y="1138.8"/>
<use href="#sq" x="1096.4" y="1138.4"/>
<use href="#sq" x="1098.6" y="1138.1"/>
<use href="#sq" x="1100.7" y="1142.1"/>
<use href="#sq" x="1102.8" y="1142.4"/>
<use href="#sq" x="1105.0" y="1135.8"/>
<use href="#sq" x="1107.1" y="1137.9"/>
<use href="#sq" x="1109.2" y="1133.9"/>
<use href="#sq" x="1111.3" y="1137.7"/>
<use href="#sq" x="1113.5" y="1142.4"/>
<use href="#sq" x="1115.6" y="1140.0"/>
<use href="#sq" x="1117.7" y="1141.9"/>
<use href="#sq" x="1119.8" y="1143.3"/>
<use href="#sq" x="1122.0" y="1143.1"/>
<use href="#sq" x="1124.1" y="1146.4"/>
<use href="#sq" x="1126.2" y="1142.1"/>
<use href="#sq" x="1128.3" y="1139.4"/>
<use href="#sq" x="1130.5" y="1145.7"/>
<use href="#sq" x="1132.6" y="1143.9"/>
<use href="#sq" x="1134.7" y="1148.0"/>
<use href="#sq" x="1136.8" y="1143.4"/>
<use href="#sq" x="1139.0" y="1141.3"/>
<use href="#sq" x="1141.1" y="1150.2"/>
<use href="#sq" x="1143.2" y="1147.9"/>
<use href="#sq" x="1145.3" y="1143.7"/>
<use href="#sq" x="1147.5" y="1148.4"/>
<use href="#sq" x="1149.6" y="1147.5"/>
<use href="#sq" x="1151.7" y="1148.5"/>
<use href="#sq" x="1153.8" y="1153.5"/>
<use href="#sq" x="1156.0" y="1149.6"/>
<use href="#sq" x="1158.1" y="1146.8"/>
<use href="#sq" x="1160.2" y="1145.5"/>
<use href="#sq" x="1162.4" y="1147.9"/>
<use href="#sq" x="1164.5" y="1151.5"/>
<use href="#sq" x="1166.6" y="1152.0"/>
<use href="#sq" x="1168.7" y="1154.7"/>
<use href="#sq" x="1170.9" y="1153.5"/>
<use href="#sq" x="1173.0" y="1149.6"/>
<use href="#sq" x="1175.1" y="1147.7"/>
<use href="#sq" x="1177.2" y="1151.7"/>
<use href="#sq" x="1179.4" y="1155.6"/>
<use href="#sq" x="1181.5" y="1149.0"/>
<use href="#sq" x="1183.6" y="1157.4"/>
<use href="#sq" x="1185.7" y="1150.3"/>
<use href="#sq" x="1187.9" y="1155.1"/>
<use href="#sq" x="1190.0" y="1153.9"/>
<use href="#sq" x="1192.1" y="1153.6"/>
<use href="#sq" x="1194.2" y="1155.3"/>
<use href="#sq" x="1196.4" y="1153.3"/>
<use href="#sq" x="1198.5" y="1157.0"/>
<use href="#sq" x="1200.6" y="1158.4"/>
<use href="#sq" x="1202.7" y="1159.8"/>
<use href="#sq" x="1204.9" y="1162.2"/>
<use href="#sq" x="1207.0" y="1161.0"/>
<polyline points="144.0,1171.5 146.1,1174.9 148.3,1173.3 150.4,1173.6 152.5,1172.6 154.6,1176.0 156.8,1174.5 158.9,1175.0 161.0,1175.5 163.1,1175.1 165.3,1174.6 167.4,1174.3 169.5,1175.2 171.6,1173.2 173.8,1174.7 175.9,1176.3 178.0,1172.1 180.1,1174.4 182.3,1175.0 184.4,1173.5 186.5,1173.5 188.6,1173.8 190.8,1175.1 192.9,1173.6 195.0,1176.2 197.2,1171.7 199.3,1175.8 201.4,1174.2 203.5,1173.8 205.7,1173.5 207.8,1174.2 209.9,1173.1 212.0,1176.3 214.2,1174.2 216.3,1174.3 218.4,1174.7 220.5,1171.8 222.7,1175.5 224.8,1174.2 226.9,1176.3 229.0,1173.7 231.2,1176.3 233.3,1176.3 235.4,1171.5 237.5,1173.0 239.7,1174.1 241.8,1173.8 243.9,1176.2 246.0,1175.6 248.2,1173.4 250.3,1176.3 252.4,1173.7 254.6,1176.3 256.7,1173.9 258.8,1175.7 260.9,1171.5 263.1,1172.5 265.2,1174.8 267.3,1176.3 269.4,1175.2 271.6,1174.1 273.7,1175.6 275.8,1173.6 277.9,1172.6 280.1,1174.1 282.2,1174.7 284.3,1172.9 286.4,1174.5 288.6,1172.8 290.7,1174.5 292.8,1171.6 294.9,1174.5 297.1,1175.7 299.2,1173.9 301.3,1175.0 303.4,1175.5 305.6,1174.2 307.7,1172.9 309.8,1176.3 312.0,1174.1 314.1,1174.3 316.2,1174.3 318.3,1172.8 320.5,1176.0 322.6,1173.1 324.7,1174.4 326.8,1173.9 329.0,1174.4 331.1,1174.5 333.2,1174.8 335.3,1173.4 337.5,1171.5 339.6,1172.4 341.7,1172.7 343.8,1173.2 346.0,1174.8 348.1,1173.1 350.2,1171.5 352.3,1176.0 354.5,1172.8 356.6,1172.5 358.7,1173.5 360.9,1172.6 363.0,1171.5 365.1,1171.0 367.2,1171.4 369.4,1170.8 371.5,1172.8 373.6,1171.9 375.7,1172.8 377.9,1172.5 380.0,1173.7 382.1,1171.7 384.2,1170.3 386.4,1172.9 388.5,1172.1 390.6,1171.3 392.7,1172.3 394.9,1170.6 397.0,1171.7 399.1,1174.1 401.2,1173.8 403.4,1170.5 405.5,1170.6 407.6,1169.6 409.8,1171.1 411.9,1170.8 414.0,1173.8 416.1,1167.7 418.3,1171.9 420.4,1167.6 422.5,1171.7 424.6,1170.4 426.8,1168.3 428.9,1169.2 431.0,1169.4 433.1,1165.5 435.3,1165.6 437.4,1165.9 439.5,1167.2 441.6,1168.0 443.8,1166.8 445.9,1166.6 448.0,1156.9 450.1,1164.7 452.3,1162.3 454.4,1164.1 456.5,1165.2 458.6,1164.2 460.8,1158.6 462.9,1161.0 465.0,1160.3 467.2,1159.6 469.3,1158.2 471.4,1158.9 473.5,1155.3 475.7,1155.8 477.8,1162.4 479.9,1157.5 482.0,1151.6 484.2,1160.0 486.3,1155.1 488.4,1147.2 490.5,1150.9 492.7,1153.8 494.8,1148.9 496.9,1156.7 499.0,1155.8 501.2,1151.4 503.3,1152.4 505.4,1152.8 507.5,1146.1 509.7,1139.9 511.8,1145.4 513.9,1145.5 516.0,1146.2 518.2,1142.8 520.3,1143.5 522.4,1145.0 524.6,1139.3 526.7,1139.0 528.8,1139.2 530.9,1135.9 533.1,1124.2 535.2,1142.3 537.3,1137.9 539.4,1139.0 541.6,1130.7 543.7,1133.7 545.8,1128.6 547.9,1128.2 550.1,1160.5 552.2,1135.5 554.3,1138.1 556.4,1130.8 558.6,1133.6 560.7,1132.6 562.8,1108.4 564.9,1135.0 567.1,1126.5 569.2,1127.2 571.3,1125.1 573.5,1124.4 575.6,1128.9 577.7,1131.1 579.8,1123.8 582.0,1124.4 584.1,1139.9 586.2,1121.7 588.3,1113.3 590.5,1117.4 592.6,1101.1 594.7,1106.3 596.8,1111.6 599.0,1107.5 601.1,1107.0 603.2,1103.9 605.3,1113.4 607.5,1099.4 609.6,1087.8 611.7,1101.8 613.8,1106.0 616.0,1095.4 618.1,1095.1 620.2,1088.0 622.3,1089.4 624.5,1089.7 626.6,1099.5 628.7,1070.8 630.9,1077.0 633.0,1076.9 635.1,1080.4 637.2,1081.5 639.4,1076.1 641.5,1088.1 643.6,1077.7 645.7,1081.2 647.9,1086.7 650.0,1093.9 652.1,1062.4 654.2,1070.4 656.4,1067.9 658.5,1057.0 660.6,1058.7 662.7,1073.1 664.9,1047.8 667.0,1061.5 669.1,1044.7 671.2,1039.7 673.4,1039.1 675.5,1009.0 677.6,1022.5 679.8,1001.8 681.9,999.5 684.0,989.5 686.1,970.0 688.3,964.2 690.4,952.1 692.5,960.2 694.6,966.2 696.8,966.6 698.9,946.0 701.0,962.6 703.1,954.2 705.3,980.5 707.4,990.9 709.5,966.7 711.6,1006.6 713.8,981.4 715.9,971.5 718.0,975.1 720.1,949.6 722.3,955.2 724.4,958.1 726.5,933.9 728.6,928.4 730.8,936.5 732.9,922.4 735.0,910.9 737.2,927.4 739.3,889.0 741.4,901.2 743.5,893.1 745.7,908.4 747.8,896.8 749.9,900.9 752.0,911.2 754.2,876.1 756.3,884.1 758.4,880.0 760.5,882.6 762.7,898.7 764.8,872.7 766.9,840.6 769.0,845.0 771.2,871.9 773.3,849.7 775.4,810.3 777.5,848.9 779.7,826.0 781.8,858.6 783.9,860.0 786.1,857.9 788.2,877.7 790.3,885.4 792.4,885.6 794.6,880.4 796.7,860.1 798.8,851.6 800.9,829.7 803.1,874.5 805.2,849.9 807.3,841.3 809.4,864.4 811.6,847.9 813.7,850.0 815.8,858.1 817.9,863.4 820.1,844.2 822.2,830.9 824.3,856.3 826.4,869.7 828.6,881.8 830.7,885.7 832.8,884.2 834.9,908.7 837.1,908.4 839.2,925.4 841.3,941.2 843.5,953.3 845.6,946.9 847.7,969.0 849.8,978.0 852.0,987.9 854.1,986.0 856.2,1003.8 858.3,1005.4 860.5,1026.0 862.6,1047.8 864.7,1051.8 866.8,1064.8 869.0,1067.8 871.1,1084.7 873.2,1087.7 875.3,1084.2 877.5,1088.2 879.6,1089.5 881.7,1105.9 883.8,1099.9 886.0,1107.8 888.1,1115.0 890.2,1123.7 892.4,1119.3 894.5,1123.2 896.6,1136.3 898.7,1131.6 900.9,1125.1 903.0,1130.2 905.1,1133.5 907.2,1133.8 909.4,1140.9 911.5,1135.2 913.6,1143.5 915.7,1137.1 917.9,1133.5 920.0,1145.0 922.1,1137.9 924.2,1138.7 926.4,1137.3 928.5,1143.9 930.6,1139.2 932.7,1143.5 934.9,1146.1 937.0,1150.6 939.1,1149.0 941.2,1150.9 943.4,1139.8 945.5,1145.1 947.6,1147.1 949.8,1151.8 951.9,1144.8 954.0,1140.2 956.1,1149.4 958.3,1138.3 960.4,1138.7 962.5,1141.5 964.6,1143.3 966.8,1139.8 968.9,1143.9 971.0,1134.7 973.1,1133.9 975.3,1130.2 977.4,1130.2 979.5,1133.3 981.6,1132.9 983.8,1140.4 985.9,1136.5 988.0,1142.2 990.1,1140.1 992.3,1135.5 994.4,1132.7 996.5,1136.3 998.7,1133.7 1000.8,1140.5 1002.9,1141.4 1005.0,1148.4 1007.2,1141.1 1009.3,1142.9 1011.4,1147.6 1013.5,1149.9 1015.7,1150.8 1017.8,1145.2 1019.9,1147.8 1022.0,1144.4 1024.2,1148.3 1026.3,1148.0 1028.4,1143.3 1030.5,1146.2 1032.7,1146.9 1034.8,1149.6 1036.9,1147.3 1039.0,1152.9 1041.2,1158.0 1043.3,1158.7 1045.4,1162.2 1047.5,1157.8 1049.7,1161.3 1051.8,1160.0 1053.9,1160.5 1056.1,1166.1 1058.2,1164.9 1060.3,1162.7 1062.4,1166.0 1064.6,1164.4 1066.7,1167.4 1068.8,1169.5 1070.9,1168.3 1073.1,1171.7 1075.2,1167.1 1077.3,1170.1 1079.4,1166.7 1081.6,1172.3 1083.7,1170.0 1085.8,1170.0 1087.9,1171.4 1090.1,1170.7 1092.2,1172.9 1094.3,1173.5 1096.4,1174.1 1098.6,1172.6 1100.7,1173.1 1102.8,1171.3 1105.0,1172.4 1107.1,1173.0 1109.2,1173.1 1111.3,1174.7 1113.5,1172.6 1115.6,1171.2 1117.7,1174.4 1119.8,1172.5 1122.0,1170.9 1124.1,1173.4 1126.2,1171.9 1128.3,1173.0 1130.5,1169.5 1132.6,1169.9 1134.7,1170.3 1136.8,1173.6 1139.0,1171.3 1141.1,1172.8 1143.2,1171.9 1145.3,1173.6 1147.5,1172.4 1149.6,1174.0 1151.7,1172.2 1153.8,1170.1 1156.0,1175.1 1158.1,1175.0 1160.2,1172.1 1162.4,1171.6 1164.5,1173.6 1166.6,1172.1 1168.7,1172.4 1170.9,1172.2 1173.0,1170.9 1175.1,1174.3 1177.2,1172.2 1179.4,1173.0 1181.5,1174.4 1183.6,1172.6 1185.7,1175.5 1187.9,1175.8 1190.0,1171.8 1192.1,1175.3 1194.2,1171.1 1196.4,1172.0 1198.5,1174.5 1200.6,1175.1 1202.7,1176.2 1204.9,1173.9 1207.0,1176.3" fill="none" stroke="#e22" stroke-width="1.3"/>
<use href="#ci" x="144.0" y="1171.5"/>
<use href="#ci" x="146.1" y="1174.9"/>
<use href="#ci" x="148.3" y="1173.3"/>
<use href="#ci" x="150.4" y="1173.6"/>
<use href="#ci" x="152.5" y="1172.6"/>
<use href="#ci" x="154.6" y="1176.0"/>
<use href="#ci" x="156.8" y="1174.5"/>
<use href="#ci" x="158.9" y="1175.0"/>
<use href="#ci" x="161.0" y="1175.5"/>
<use href="#ci" x="163.1" y="1175.1"/>
<use href="#ci" x="165.3" y="1174.6"/>
<use href="#ci" x="167.4" y="1174.3"/>
<use href="#ci" x="169.5" y="1175.2"/>
<use href="#ci" x="171.6" y="1173.2"/>
<use href="#ci" x="173.8" y="1174.7"/>
<use href="#ci" x="175.9" y="1176.3"/>
<use href="#ci" x="178.0" y="1172.1"/>
<use href="#ci" x="180.1" y="1174.4"/>
<use href="#ci" x="182.3" y="1175.0"/>
<use href="#ci" x="184.4" y="1173.5"/>
<use href="#ci" x="186.5" y="1173.5"/>
<use href="#ci" x="188.6" y="1173.8"/>
<use href="#ci" x="190.8" y="1175.1"/>
<use href="#ci" x="192.9" y="1173.6"/>
<use href="#ci" x="195.0" y="1176.2"/>
<use href="#ci" x="197.2" y="1171.7"/>
<use href="#ci" x="199.3" y="1175.8"/>
<use href="#ci" x="201.4" y="1174.2"/>
<use href="#ci" x="203.5" y="1173.8"/>
<use href="#ci" x="205.7" y="1173.5"/>
<use href="#ci" x="207.8" y="1174.2"/>
<use href="#ci" x="209.9" y="1173.1"/>
<use href="#ci" x="212.0" y="1176.3"/>
<use href="#ci" x="214.2" y="1174.2"/>
<use href="#ci" x="216.3" y="1174.3"/>
<use href="#ci" x="218.4" y="1174.7"/>
<use href="#ci" x="220.5" y="1171.8"/>
<use href="#ci" x="222.7" y="1175.5"/>
<use href="#ci" x="224.8" y="1174.2"/>
<use href="#ci" x="226.9" y="1176.3"/>
<use href="#ci" x="229.0" y="1173.7"/>
<use href="#ci" x="231.2" y="1176.3"/>
<use href="#ci" x="233.3" y="1176.3"/>
<use href="#ci" x="235.4" y="1171.5"/>
<use href="#ci" x="237.5" y="1173.0"/>
<use href="#ci" x="239.7" y="1174.1"/>
<use href="#ci" x="241.8" y="1173.8"/>
<use href="#ci" x="243.9" y="1176.2"/>
<use href="#ci" x="246.0" y="1175.6"/>
<use href="#ci" x="248.2" y="1173.4"/>
<use href="#ci" x="250.3" y="1176.3"/>
<use href="#ci" x="252.4" y="1173.7"/>
<use href="#ci" x="254.6" y="1176.3"/>
<use href="#ci" x="256.7" y="1173.9"/>
<use href="#ci" x="258.8" y="1175.7"/>
<use href="#ci" x="260.9" y="1171.5"/>
<use href="#ci" x="263.1" y="1172.5"/>
<use href="#ci" x="265.2" y="1174.8"/>
<use href="#ci" x="267.3" y="1176.3"/>
<use href="#ci" x="269.4" y="1175.2"/>
<use href="#ci" x="271.6" y="1174.1"/>
<use href="#ci" x="273.7" y="1175.6"/>
<use href="#ci" x="275.8" y="1173.6"/>
<use href="#ci" x="277.9" y="1172.6"/>
<use href="#ci" x="280.1" y="1174.1"/>
<use href="#ci" x="282.2" y="1174.7"/>
<use href="#ci" x="284.3" y="1172.9"/>
<use href="#ci" x="286.4" y="1174.5"/>
<use href="#ci" x="288.6" y="1172.8"/>
<use href="#ci" x="290.7" y="1174.5"/>
<use href="#ci" x="292.8" y="1171.6"/>
<use href="#ci" x="294.9" y="1174.5"/>
<use href="#ci" x="297.1" y="1175.7"/>
<use href="#ci" x="299.2" y="1173.9"/>
<use href="#ci" x="301.3" y="1175.0"/>
<use href="#ci" x="303.4" y="1175.5"/>
<use href="#ci" x="305.6" y="1174.2"/>
<use href="#ci" x="307.7" y="1172.9"/>
<use href="#ci" x="309.8" y="1176.3"/>
<use href="#ci" x="312.0" y="1174.1"/>
<use href="#ci" x="314.1" y="1174.3"/>
<use href="#ci" x="316.2" y="1174.3"/>
<use href="#ci" x="318.3" y="1172.8"/>
<use href="#ci" x="320.5" y="1176.0"/>
<use href="#ci" x="322.6" y="1173.1"/>
<use href="#ci" x="324.7" y="1174.4"/>
<use href="#ci" x="326.8" y="1173.9"/>
<use href="#ci" x="329.0" y="1174.4"/>
<use href="#ci" x="331.1" y="1174.5"/>
<use href="#ci" x="333.2" y="1174.8"/>
<use href="#ci" x="335.3" y="1173.4"/>
<use href="#ci" x="337.5" y="1171.5"/>
<use href="#ci" x="339.6" y="1172.4"/>
<use href="#ci" x="341.7" y="1172.7"/>
<use href="#ci" x="343.8" y="1173.2"/>
<use href="#ci" x="346.0" y="1174.8"/>
<use href="#ci" x="348.1" y="1173.1"/>
<use href="#ci" x="350.2" y="1171.5"/>
<use href="#ci" x="352.3" y="1176.0"/>
<use href="#ci" x="354.5" y="1172.8"/>
<use href="#ci" x="356.6" y="1172.5"/>
<use href="#ci" x="358.7" y="1173.5"/>
<use href="#ci" x="360.9" y="1172.6"/>
<use href="#ci" x="363.0" y="1171.5"/>
<use href="#ci" x="365.1" y="1171.0"/>
<use href="#ci" x="367.2" y="1171.4"/>
<use href="#ci" x="369.4" y="1170.8"/>
<use href="#ci" x="371.5" y="1172.8"/>
<use href="#ci" x="373.6" y="1171.9"/>
<use href="#ci" x="375.7" y="1172.8"/>
<use href="#ci" x="377.9" y="1172.5"/>
<use href="#ci" x="380.0" y="1173.7"/>
<use href="#ci" x="382.1" y="1171.7"/>
<use href="#ci" x="384.2" y="1170.3"/>
<use href="#ci" x="386.4" y="1172.9"/>
<use href="#ci" x="388.5" y="1172.1"/>
<use href="#ci" x="390.6" y="1171.3"/>
<use href="#ci" x="392.7" y="1172.3"/>
<use href="#ci" x="394.9" y="1170.6"/>
<use href="#ci" x="397.0" y="1171.7"/>
<use href="#ci" x="399.1" y="1174.1"/>
<use href="#ci" x="401.2" y="1173.8"/>
<use href="#ci" x="403.4" y="1170.5"/>
<use href="#ci" x="405.5" y="1170.6"/>
<use href="#ci" x="407.6" y="1169.6"/>
<use href="#ci" x="409.8" y="1171.1"/>
<use href="#ci" x="411.9" y="1170.8"/>
<use href="#ci" x="414.0" y="1173.8"/>
<use href="#ci" x="416.1" y="1167.7"/>
<use href="#ci" x="418.3" y="1171.9"/>
<use href="#ci" x="420.4" y="1167.6"/>
<use href="#ci" x="422.5" y="1171.7"/>
<use href="#ci" x="424.6" y="1170.4"/>
<use href="#ci" x="426.8" y="1168.3"/>
<use href="#ci" x="428.9" y="1169.2"/>
<use href="#ci" x="431.0" y="1169.4"/>
<use href="#ci" x="433.1" y="1165.5"/>
<use href="#ci" x="435.3" y="1165.6"/>
<use href="#ci" x="437.4" y="1165.9"/>
<use href="#ci" x="439.5" y="1167.2"/>
<use href="#ci" x="441.6" y="1168.0"/>
<use href="#ci" x="443.8" y="1166.8"/>
<use href="#ci" x="445.9" y="1166.6"/>
<use href="#ci" x="448.0" y="1156.9"/>
<use href="#ci" x="450.1" y="1164.7"/>
<use href="#ci" x="452.3" y="1162.3"/>
<use href="#ci" x="454.4" y="1164.1"/>
<use href="#ci" x="456.5" y="1165.2"/>
<use href="#ci" x="458.6" y="1164.2"/>
<use href="#ci" x="460.8" y="1158.6"/>
<use href="#ci" x="462.9" y="1161.0"/>
<use href="#ci" x="465.0" y="1160.3"/>
<use href="#ci" x="467.2" y="1159.6"/>
<use href="#ci" x="469.3" y="1158.2"/>
<use href="#ci" x="471.4" y="1158.9"/>
<use href="#ci" x="473.5" y="1155.3"/>
<use href="#ci" x="475.7" y="1155.8"/>
<use href="#ci" x="477.8" y="1162.4"/>
<use href="#ci" x="479.9" y="1157.5"/>
<use href="#ci" x="482.0" y="1151.6"/>
<use href="#ci" x="484.2" y="1160.0"/>
<use href="#ci" x="486.3" y="1155.1"/>
<use href="#ci" x="488.4" y="1147.2"/>
<use href="#ci" x="490.5" y="1150.9"/>
<use href="#ci" x="492.7" y="1153.8"/>
<use href="#ci" x="494.8" y="1148.9"/>
<use href="#ci" x="496.9" y="1156.7"/>
<use href="#ci" x="499.0" y="1155.8"/>
<use href="#ci" x="501.2" y="1151.4"/>
<use href="#ci" x="503.3" y="1152.4"/>
<use href="#ci" x="505.4" y="1152.8"/>
<use href="#ci" x="507.5" y="1146.1"/>
<use href="#ci" x="509.7" y="1139.9"/>
<use href="#ci" x="511.8" y="1145.4"/>
<use href="#ci" x="513.9" y="1145.5"/>
<use href="#ci" x="516.0" y="1146.2"/>
<use href="#ci" x="518.2" y="1142.8"/>
<use href="#ci" x="520.3" y="1143.5"/>
<use href="#ci" x="522.4" y="1145.0"/>
<use href="#ci" x="524.6" y="1139.3"/>
<use href="#ci" x="526.7" y="1139.0"/>
<use href="#ci" x="528.8" y="1139.2"/>
<use href="#ci" x="530.9" y="1135.9"/>
<use href="#ci" x="533.1" y="1124.2"/>
<use href="#ci" x="535.2" y="1142.3"/>
<use href="#ci" x="537.3" y="1137.9"/>
<use href="#ci" x="539.4" y="1139.0"/>
<use href="#ci" x="541.6" y="1130.7"/>
<use href="#ci" x="543.7" y="1133.7"/>
<use href="#ci" x="545.8" y="1128.6"/>
<use href="#ci" x="547.9" y="1128.2"/>
<use href="#ci" x="550.1" y="1160.5"/>
<use href="#ci" x="552.2" y="1135.5"/>
<use href="#ci" x="554.3" y="1138.1"/>
<use href="#ci" x="556.4" y="1130.8"/>
<use href="#ci" x="558.6" y="1133.6"/>
<use href="#ci" x="560.7" y="1132.6"/>
<use href="#ci" x="562.8" y="1108.4"/>
<use href="#ci" x="564.9" y="1135.0"/>
<use href="#ci" x="567.1" y="1126.5"/>
<use href="#ci" x="569.2" y="1127.2"/>
<use href="#ci" x="571.3" y="1125.1"/>
<use href="#ci" x="573.5" y="1124.4"/>
<use href="#ci" x="575.6" y="1128.9"/>
<use href="#ci" x="577.7" y="1131.1"/>
<use href="#ci" x="579.8" y="1123.8"/>
<use href="#ci" x="582.0" y="1124.4"/>
<use href="#ci" x="584.1" y="1139.9"/>
<use href="#ci" x="586.2" y="1121.7"/>
<use href="#ci" x="588.3" y="1113.3"/>
<use href="#ci" x="590.5" y="1117.4"/>
<use href="#ci" x="592.6" y="1101.1"/>
<use href="#ci" x="594.7" y="1106.3"/>
<use href="#ci" x="596.8" y="1111.6"/>
<use href="#ci" x="599.0" y="1107.5"/>
<use href="#ci" x="601.1" y="1107.0"/>
<use href="#ci" x="603.2" y="1103.9"/>
<use href="#ci" x="605.3" y="1113.4"/>
<use href="#ci" x="607.5" y="1099.4"/>
<use href="#ci" x="609.6" y="1087.8"/>
<use href="#ci" x="611.7" y="1101.8"/>
<use href="#ci" x="613.8" y="1106.0"/>
<use href="#ci" x="616.0" y="1095.4"/>
<use href="#ci" x="618.1" y="1095.1"/>
<use href="#ci" x="620.2" y="1088.0"/>
<use href="#ci" x="622.3" y="1089.4"/>
<use href="#ci" x="624.5" y="1089.7"/>
<use href="#ci" x="626.6" y="1099.5"/>
<use href="#ci" x="628.7" y="1070.8"/>
<use href="#ci" x="630.9" y="1077.0"/>
<use href="#ci" x="633.0" y="1076.9"/>
<use href="#ci" x="635.1" y="1080.4"/>
<use href="#ci" x="637.2" y="1081.5"/>
<use href="#ci" x="639.4" y="1076.1"/>
<use href="#ci" x="641.5" y="1088.1"/>
<use href="#ci" x="643.6" y="1077.7"/>
<use href="#ci" x="645.7" y="1081.2"/>
<use href="#ci" x="647.9" y="1086.7"/>
<use href="#ci" x="650.0" y="1093.9"/>
<use href="#ci" x="652.1" y="1062.4"/>
<use href="#ci" x="654.2" y="1070.4"/>
<use href="#ci" x="656.4" y="1067.9"/>
<use href="#ci" x="658.5" y="1057.0"/>
<use href="#ci" x="660.6" y="1058.7"/>
<use href="#ci" x="662.7" y="1073.1"/>
<use href="#ci" x="664.9" y="1047.8"/>
<use href="#ci" x="667.0" y="1061.5"/>
<use href="#ci" x="669.1" y="1044.7"/>
<use href="#ci" x="671.2" y="1039.7"/>
<use href="#ci" x="673.4" y="1039.1"/>
<use href="#ci" x="675.5" y="1009.0"/>
<use href="#ci" x="677.6" y="1022.5"/>
<use href="#ci" x="679.8" y="1001.8"/>
<use href="#ci" x="681.9" y="999.5"/>
<use href="#ci" x="684.0" y="989.5"/>
<use href="#ci" x="686.1" y="970.0"/>
<use href="#ci" x="688.3" y="964.2"/>
<use href="#ci" x="690.4" y="952.1"/>
<use href="#ci" x="692.5" y="960.2"/>
<use href="#ci" x="694.6" y="966.2"/>
<use href="#ci" x="696.8" y="966.6"/>
<use href="#ci" x="698.9" y="946.0"/>
<use href="#ci" x="701.0" y="962.6"/>
<use href="#ci" x="703.1" y="954.2"/>
<use href="#ci" x="705.3" y="980.5"/>
<use href="#ci" x="707.4" y="990.9"/>
<use href="#ci" x="709.5" y="966.7"/>
<use href="#ci" x="711.6" y="1006.6"/>
<use href="#ci" x="713.8" y="981.4"/>
<use href="#ci" x="715.9" y="971.5"/>
<use href="#ci" x="718.0" y="975.1"/>
<use href="#ci" x="720.1" y="949.6"/>
<use href="#ci" x="722.3" y="955.2"/>
<use href="#ci" x="724.4" y="958.1"/>
<use href="#ci" x="726.5" y="933.9"/>
<use href="#ci" x="728.6" y="928.4"/>
<use href="#ci" x="730.8" y="936.5"/>
<use href="#ci" x="732.9" y="922.4"/>
<use href="#ci" x="735.0" y="910.9"/>
<use href="#ci" x="737.2" y="927.4"/>
<use href="#ci" x="739.3" y="889.0"/>
<use href="#ci" x="741.4" y="901.2"/>
<use href="#ci" x="743.5" y="893.1"/>
<use href="#ci" x="745.7" y="908.4"/>
<use href="#ci" x="747.8" y="896.8"/>
<use href="#ci" x="749.9" y="900.9"/>
<use href="#ci" x="752.0" y="911.2"/>
<use href="#ci" x="754.2" y="876.1"/>
<use href="#ci" x="756.3" y="884.1"/>
<use href="#ci" x="758.4" y="880.0"/>
<use href="#ci" x="760.5" y="882.6"/>
<use href="#ci" x="762.7" y="898.7"/>
<use href="#ci" x="764.8" y="872.7"/>
<use href="#ci" x="766.9" y="840.6"/>
<use href="#ci" x="769.0" y="845.0"/>
<use href="#ci" x="771.2" y="871.9"/>
<use href="#ci" x="773.3" y="849.7"/>
<use href="#ci" x="775.4" y="810.3"/>
<use href="#ci" x="777.5" y="848.9"/>
<use href="#ci" x="779.7" y="826.0"/>
<use href="#ci" x="781.8" y="858.6"/>
<use href="#ci" x="783.9" y="860.0"/>
<use href="#ci" x="786.1" y="857.9"/>
<use href="#ci" x="788.2" y="877.7"/>
<use href="#ci" x="790.3" y="885.4"/>
<use href="#ci" x="792.4" y="885.6"/>
<use href="#ci" x="794.6" y="880.4"/>
<use href="#ci" x="796.7" y="860.1"/>
<use href="#ci" x="798.8" y="851.6"/>
<use href="#ci" x="800.9" y="829.7"/>
<use href="#ci" x="803.1" y="874.5"/>
<use href="#ci" x="805.2" y="849.9"/>
<use href="#ci" x="807.3" y="841.3"/>
<use href="#ci" x="809.4" y="864.4"/>
<use href="#ci" x="811.6" y="847.9"/>
<use href="#ci" x="813.7" y="850.0"/>
<use href="#ci" x="815.8" y="858.1"/>
<use href="#ci" x="817.9" y="863.4"/>
<use href="#ci" x="820.1" y="844.2"/>
<use href="#ci" x="822.2" y="830.9"/>
<use href="#ci" x="824.3" y="856.3"/>
<use href="#ci" x="826.4" y="869.7"/>
<use href="#ci" x="828.6" y="881.8"/>
<use href="#ci" x="830.7" y="885.7"/>
<use href="#ci" x="832.8" y="884.2"/>
<use href="#ci" x="834.9" y="908.7"/>
<use href="#ci" x="837.1" y="908.4"/>
<use href="#ci" x="839.2" y="925.4"/>
<use href="#ci" x="841.3" y="941.2"/>
<use href="#ci" x="843.5" y="953.3"/>
<use href="#ci" x="845.6" y="946.9"/>
<use href="#ci" x="847.7" y="969.0"/>
<use href="#ci" x="849.8" y="978.0"/>
<use href="#ci" x="852.0" y="987.9"/>
<use href="#ci" x="854.1" y="986.0"/>
<use href="#ci" x="856.2" y="1003.8"/>
<use href="#ci" x="858.3" y="1005.4"/>
<use href="#ci" x="860.5" y="1026.0"/>
<use href="#ci" x="862.6" y="1047.8"/>
<use href="#ci" x="864.7" y="1051.8"/>
<use href="#ci" x="866.8" y="1064.8"/>
<use href="#ci" x="869.0" y="1067.8"/>
<use href="#ci" x="871.1" y="1084.7"/>
<use href="#ci" x="873.2" y="1087.7"/>
<use href="#ci" x="875.3" y="1084.2"/>
<use href="#ci" x="877.5" y="1088.2"/>
<use href="#ci" x="879.6" y="1089.5"/>
<use href="#ci" x="881.7" y="1105.9"/>
<use href="#ci" x="883.8" y="1099.9"/>
<use href="#ci" x="886.0" y="1107.8"/>
<use href="#ci" x="888.1" y="1115.0"/>
<use href="#ci" x="890.2" y="1123.7"/>
<use href="#ci" x="892.4" y="1119.3"/>
<use href="#ci" x="894.5" y="1123.2"/>
<use href="#ci" x="896.6" y="1136.3"/>
<use href="#ci" x="898.7" y="1131.6"/>
<use href="#ci" x="900.9" y="1125.1"/>
<use href="#ci" x="903.0" y="1130.2"/>
<use href="#ci" x="905.1" y="1133.5"/>
<use href="#ci" x="907.2" y="1133.8"/>
<use href="#ci" x="909.4" y="1140.9"/>
<use href="#ci" x="911.5" y="1135.2"/>
<use href="#ci" x="913.6" y="1143.5"/>
<use href="#ci" x="915.7" y="1137.1"/>
<use href="#ci" x="917.9" y="1133.5"/>
<use href="#ci" x="920.0" y="1145.0"/>
<use href="#ci" x="922.1" y="1137.9"/>
<use href="#ci" x="924.2" y="1138.7"/>
<use href="#ci" x="926.4" y="1137.3"/>
<use href="#ci" x="928.5" y="1143.9"/>
<use href="#ci" x="930.6" y="1139.2"/>
<use href="#ci" x="932.7" y="1143.5"/>
<use href="#ci" x="934.9" y="1146.1"/>
<use href="#ci" x="937.0" y="1150.6"/>
<use href="#ci" x="939.1" y="1149.0"/>
<use href="#ci" x="941.2" y="1150.9"/>
<use href="#ci" x="943.4" y="1139.8"/>
<use href="#ci" x="945.5" y="1145.1"/>
<use href="#ci" x="947.6" y="1147.1"/>
<use href="#ci" x="949.8" y="1151.8"/>
<use href="#ci" x="951.9" y="1144.8"/>
<use href="#ci" x="954.0" y="1140.2"/>
<use href="#ci" x="956.1" y="1149.4"/>
<use href="#ci" x="958.3" y="1138.3"/>
<use href="#ci" x="960.4" y="1138.7"/>
<use href="#ci" x="962.5" y="1141.5"/>
<use href="#ci" x="964.6" y="1143.3"/>
<use href="#ci" x="966.8" y="1139.8"/>
<use href="#ci" x="968.9" y="1143.9"/>
<use href="#ci" x="971.0" y="1134.7"/>
<use href="#ci" x="973.1" y="1133.9"/>
<use href="#ci" x="975.3" y="1130.2"/>
<use href="#ci" x="977.4" y="1130.2"/>
<use href="#ci" x="979.5" y="1133.3"/>
<use href="#ci" x="981.6" y="1132.9"/>
<use href="#ci" x="983.8" y="1140.4"/>
<use href="#ci" x="985.9" y="1136.5"/>
<use href="#ci" x="988.0" y="1142.2"/>
<use href="#ci" x="990.1" y="1140.1"/>
<use href="#ci" x="992.3" y="1135.5"/>
<use href="#ci" x="994.4" y="1132.7"/>
<use href="#ci" x="996.5" y="1136.3"/>
<use href="#ci" x="998.7" y="1133.7"/>
<use href="#ci" x="1000.8" y="1140.5"/>
<use href="#ci" x="1002.9" y="1141.4"/>
<use href="#ci" x="1005.0" y="1148.4"/>
<use href="#ci" x="1007.2" y="1141.1"/>
<use href="#ci" x="1009.3" y="1142.9"/>
<use href="#ci" x="1011.4" y="1147.6"/>
<use href="#ci" x="1013.5" y="1149.9"/>
<use href="#ci" x="1015.7" y="1150.8"/>
<use href="#ci" x="1017.8" y="1145.2"/>
<use href="#ci" x="1019.9" y="1147.8"/>
<use href="#ci" x="1022.0" y="1144.4"/>
<use href="#ci" x="1024.2" y="1148.3"/>
<use href="#ci" x="1026.3" y="1148.0"/>
<use href="#ci" x="1028.4" y="1143.3"/>
<use href="#ci" x="1030.5" y="1146.2"/>
<use href="#ci" x="1032.7" y="1146.9"/>
<use href="#ci" x="1034.8" y="1149.6"/>
<use href="#ci" x="1036.9" y="1147.3"/>
<use href="#ci" x="1039.0" y="1152.9"/>
<use href="#ci" x="1041.2" y="1158.0"/>
<use href="#ci" x="1043.3" y="1158.7"/>
<use href="#ci" x="1045.4" y="1162.2"/>
<use href="#ci" x="1047.5" y="1157.8"/>
<use href="#ci" x="1049.7" y="1161.3"/>
<use href="#ci" x="1051.8" y="1160.0"/>
<use href="#ci" x="1053.9" y="1160.5"/>
<use href="#ci" x="1056.1" y="1166.1"/>
<use href="#ci" x="1058.2" y="1164.9"/>
<use href="#ci" x="1060.3" y="1162.7"/>
<use href="#ci" x="1062.4" y="1166.0"/>
<use href="#ci" x="1064.6" y="1164.4"/>
<use href="#ci" x="1066.7" y="1167.4"/>
<use href="#ci" x="1068.8" y="1169.5"/>
<use href="#ci" x="1070.9" y="1168.3"/>
<use href="#ci" x="1073.1" y="1171.7"/>
<use href="#ci" x="1075.2" y="1167.1"/>
<use href="#ci" x="1077.3" y="1170.1"/>
<use href="#ci" x="1079.4" y="1166.7"/>
<use href="#ci" x="1081.6" y="1172.3"/>
<use href="#ci" x="1083.7" y="1170.0"/>
<use href="#ci" x="1085.8" y="1170.0"/>
<use href="#ci" x="1087.9" y="1171.4"/>
<use href="#ci" x="1090.1" y="1170.7"/>
<use href="#ci" x="1092.2" y="1172.9"/>
<use href="#ci" x="1094.3" y="1173.5"/>
<use href="#ci" x="1096.4" y="1174.1"/>
<use href="#ci" x="1098.6" y="1172.6"/>
<use href="#ci" x="1100.7" y="1173.1"/>
<use href="#ci" x="1102.8" y="1171.3"/>
<use href="#ci" x="1105.0" y="1172.4"/>
<use href="#ci" x="1107.1" y="1173.0"/>
<use href="#ci" x="1109.2" y="1173.1"/>
<use href="#ci" x="1111.3" y="1174.7"/>
<use href="#ci" x="1113.5" y="1172.6"/>
<use href="#ci" x="1115.6" y="1171.2"/>
<use href="#ci" x="1117.7" y="1174.4"/>
<use href="#ci" x="1119.8" y="1172.5"/>
<use href="#ci" x="1122.0" y="1170.9"/>
<use href="#ci" x="1124.1" y="1173.4"/>
<use href="#ci" x="1126.2" y="1171.9"/>
<use href="#ci" x="1128.3" y="1173.0"/>
<use href="#ci" x="1130.5" y="1169.5"/>
<use href="#ci" x="1132.6" y="1169.9"/>
<use href="#ci" x="1134.7" y="1170.3"/>
<use href="#ci" x="1136.8" y="1173.6"/>
<use href="#ci" x="1139.0" y="1171.3"/>
<use href="#ci" x="1141.1" y="1172.8"/>
<use href="#ci" x="1143.2" y="1171.9"/>
<use href="#ci" x="1145.3" y="1173.6"/>
<use href="#ci" x="1147.5" y="1172.4"/>
<use href="#ci" x="1149.6" y="1174.0"/>
<use href="#ci" x="1151.7" y="1172.2"/>
<use href="#ci" x="1153.8" y="1170.1"/>
<use href="#ci" x="1156.0" y="1175.1"/>
<use href="#ci" x="1158.1" y="1175.0"/>
<use href="#ci" x="1160.2" y="1172.1"/>
<use href="#ci" x="1162.4" y="1171.6"/>
<use href="#ci" x="1164.5" y="1173.6"/>
<use href="#ci" x="1166.6" y="1172.1"/>
<use href="#ci" x="1168.7" y="1172.4"/>
<use href="#ci" x="1170.9" y="1172.2"/>
<use href="#ci" x="1173.0" y="1170.9"/>
<use href="#ci" x="1175.1" y="1174.3"/>
<use href="#ci" x="1177.2" y="1172.2"/>
<use href="#ci" x="1179.4" y="1173.0"/>
<use href="#ci" x="1181.5" y="1174.4"/>
<use href="#ci" x="1183.6" y="1172.6"/>
<use href="#ci" x="1185.7" y="1175.5"/>
<use href="#ci" x="1187.9" y="1175.8"/>
<use href="#ci" x="1190.0" y="1171.8"/>
<use href="#ci" x="1192.1" y="1175.3"/>
<use href="#ci" x="1194.2" y="1171.1"/>
<use href="#ci" x="1196.4" y="1172.0"/>
<use href="#ci" x="1198.5" y="1174.5"/>
<use href="#ci" x="1200.6" y="1175.1"/>
<use href="#ci" x="1202.7" y="1176.2"/>
<use href="#ci" x="1204.9" y="1173.9"/>
<use href="#ci" x="1207.0" y="1176.3"/>
<polyline points="144.0,1178.3 146.1,1171.7 148.3,1175.9 150.4,1169.9 152.5,1169.2 154.6,1180.9 156.8,1158.1 158.9,1181.6 161.0,1158.5 163.1,1177.9 165.3,1178.3 167.4,1145.9 169.5,1173.6 171.6,1158.4 173.8,1173.4 175.9,1154.5 178.0,1168.6 180.1,1179.6 182.3,1168.7 184.4,1155.5 186.5,1172.2 188.6,1164.2 190.8,1167.3 192.9,1180.9 195.0,1163.3 197.2,1170.1 199.3,1142.4 201.4,1177.1 203.5,1181.3 205.7,1155.6 207.8,1173.4 209.9,1165.2 212.0,1154.1 214.2,1165.4 216.3,1148.5 218.4,1175.2 220.5,1154.5 222.7,1160.5 224.8,1174.0 226.9,1145.7 229.0,1153.9 231.2,1180.4 233.3,1179.8 235.4,1178.5 237.5,1145.5 239.7,1174.2 241.8,1148.4 243.9,1168.7 246.0,1177.0 248.2,1172.4 250.3,1175.3 252.4,1176.0 254.6,1170.0 256.7,1170.1 258.8,1161.7 260.9,1150.5 263.1,1166.5 265.2,1146.4 267.3,1155.8 269.4,1145.3 271.6,1166.8 273.7,1179.4 275.8,1155.3 277.9,1145.3 280.1,1142.4 282.2,1150.1 284.3,1170.4 286.4,1164.9 288.6,1178.5 290.7,1157.7 292.8,1170.2 294.9,1177.2 297.1,1180.9 299.2,1155.7 301.3,1145.2 303.4,1180.5 305.6,1159.9 307.7,1153.3 309.8,1174.6 312.0,1179.5 314.1,1177.0 316.2,1161.8 318.3,1153.6 320.5,1181.1 322.6,1168.7 324.7,1181.1 326.8,1164.4 329.0,1176.2 331.1,1152.6 333.2,1145.0 335.3,1154.5 337.5,1172.1 339.6,1145.0 341.7,1176.6 343.8,1180.6 346.0,1169.1 348.1,1181.3 350.2,1178.7 352.3,1174.5 354.5,1168.7 356.6,1179.4 358.7,1181.1 360.9,1153.7 363.0,1176.5 365.1,1144.8 367.2,1150.2 369.4,1175.1 371.5,1173.2 373.6,1171.5 375.7,1167.4 377.9,1169.1 380.0,1168.2 382.1,1163.3 384.2,1137.0 386.4,1164.6 388.5,1166.6 390.6,1144.3 392.7,1173.1 394.9,1118.1 397.0,1169.2 399.1,1130.3 401.2,1147.6 403.4,1146.7 405.5,1144.8 407.6,1158.7 409.8,1134.0 411.9,1123.8 414.0,1139.4 416.1,1120.5 418.3,1143.7 420.4,1143.4 422.5,1181.1 424.6,1149.4 426.8,1149.1 428.9,1142.8 431.0,1148.5 433.1,1142.0 435.3,1119.3 437.4,1156.0 439.5,1125.3 441.6,1127.5 443.8,1143.8 445.9,1148.9 448.0,1121.6 450.1,1101.3 452.3,1129.0 454.4,1121.5 456.5,1119.7 458.6,1095.1 460.8,1119.3 462.9,1090.2 465.0,1089.0 467.2,1074.3 469.3,1094.6 471.4,1067.2 473.5,1080.7 475.7,1082.1 477.8,1097.5 479.9,1100.2 482.0,1080.4 484.2,1067.9 486.3,1042.9 488.4,1046.4 490.5,1061.9 492.7,1031.9 494.8,1013.3 496.9,1034.0 499.0,1035.6 501.2,1029.4 503.3,995.1 505.4,981.2 507.5,991.0 509.7,1022.6 511.8,1036.9 513.9,979.1 516.0,996.1 518.2,996.2 520.3,935.7 522.4,935.1 524.6,963.0 526.7,910.9 528.8,923.0 530.9,886.6 533.1,898.7 535.2,860.0 537.3,886.6 539.4,909.6 541.6,822.4 543.7,909.6 545.8,935.1 547.9,937.5 550.1,850.3 552.2,868.4 554.3,872.1 556.4,843.0 558.6,818.7 560.7,777.5 562.8,713.3 564.9,746.0 567.1,746.0 569.2,771.5 571.3,753.3 573.5,741.2 575.6,729.1 577.7,695.1 579.8,709.7 582.0,793.3 584.1,777.5 586.2,741.2 588.3,753.3 590.5,760.6 592.6,764.2 594.7,729.1 596.8,656.3 599.0,668.5 601.1,716.9 603.2,692.7 605.3,678.2 607.5,573.9 609.6,595.7 611.7,674.5 613.8,704.8 616.0,716.9 618.1,719.4 620.2,735.1 622.3,691.5 624.5,692.7 626.6,753.3 628.7,789.7 630.9,795.7 633.0,771.5 635.1,740.0 637.2,826.0 639.4,813.9 641.5,838.1 643.6,834.5 645.7,850.3 647.9,870.9 650.0,867.2 652.1,869.7 654.2,903.6 656.4,958.1 658.5,922.6 660.6,976.3 662.7,964.8 664.9,964.3 667.0,971.5 669.1,1030.8 671.2,1018.9 673.4,1014.4 675.5,1004.0 677.6,1063.6 679.8,996.9 681.9,1030.7 684.0,1027.7 686.1,1039.2 688.3,1043.0 690.4,1057.5 692.5,1092.8 694.6,1063.1 696.8,1091.9 698.9,1068.1 701.0,1072.5 703.1,1085.4 705.3,1089.9 707.4,1112.6 709.5,1112.9 711.6,1091.1 713.8,1112.1 715.9,1128.4 718.0,1108.8 720.1,1109.8 722.3,1123.8 724.4,1094.8 726.5,1120.6 728.6,1097.7 730.8,1147.2 732.9,1150.3 735.0,1151.3 737.2,1112.8 739.3,1119.4 741.4,1134.5 743.5,1131.3 745.7,1155.0 747.8,1123.0 749.9,1141.9 752.0,1148.5 754.2,1137.3 756.3,1122.0 758.4,1134.8 760.5,1131.0 762.7,1147.3 764.8,1144.6 766.9,1138.0 769.0,1144.5 771.2,1124.5 773.3,1154.6 775.4,1122.6 777.5,1157.9 779.7,1136.3 781.8,1151.1 783.9,1174.7 786.1,1137.9 788.2,1170.0 790.3,1165.7 792.4,1146.7 794.6,1155.9 796.7,1161.5 798.8,1136.3 800.9,1135.1 803.1,1152.1 805.2,1165.1 807.3,1168.2 809.4,1136.3 811.6,1160.3 813.7,1140.9 815.8,1165.5 817.9,1170.3 820.1,1158.8 822.2,1139.5 824.3,1171.2 826.4,1143.3 828.6,1136.3 830.7,1142.9 832.8,1141.6 834.9,1174.9 837.1,1156.6 839.2,1138.7 841.3,1174.2 843.5,1169.5 845.6,1169.6 847.7,1162.3 849.8,1165.9 852.0,1164.7 854.1,1150.6 856.2,1176.2 858.3,1175.6 860.5,1174.7 862.6,1175.1 864.7,1176.5 866.8,1138.5 869.0,1146.8 871.1,1177.3 873.2,1167.8 875.3,1173.4 877.5,1158.1 879.6,1174.2 881.7,1173.7 883.8,1164.4 886.0,1167.4 888.1,1174.7 890.2,1178.4 892.4,1175.6 894.5,1179.7 896.6,1169.4 898.7,1162.7 900.9,1174.6 903.0,1180.5 905.1,1178.8 907.2,1174.9 909.4,1168.3 911.5,1159.6 913.6,1174.8 915.7,1158.3 917.9,1155.7 920.0,1167.6 922.1,1173.6 924.2,1175.0 926.4,1171.8 928.5,1164.2 930.6,1173.9 932.7,1164.6 934.9,1172.8 937.0,1177.7 939.1,1170.7 941.2,1164.6 943.4,1180.7 945.5,1173.8 947.6,1173.8 949.8,1151.3 951.9,1144.3 954.0,1175.0 956.1,1149.0 958.3,1159.3 960.4,1177.4 962.5,1172.8 964.6,1179.9 966.8,1157.7 968.9,1166.2 971.0,1150.5 973.1,1159.3 975.3,1166.0 977.4,1162.9 979.5,1169.9 981.6,1180.2 983.8,1169.1 985.9,1181.7 988.0,1179.5 990.1,1160.6 992.3,1181.1 994.4,1180.4 996.5,1152.0 998.7,1180.3 1000.8,1151.6 1002.9,1178.9 1005.0,1181.4 1007.2,1155.7 1009.3,1179.9 1011.4,1155.5 1013.5,1165.9 1015.7,1156.2 1017.8,1144.6 1019.9,1169.5 1022.0,1159.2 1024.2,1181.2 1026.3,1161.2 1028.4,1171.7 1030.5,1164.1 1032.7,1180.2 1034.8,1162.3 1036.9,1144.7 1039.0,1180.9 1041.2,1176.3 1043.3,1170.1 1045.4,1157.1 1047.5,1177.9 1049.7,1179.0 1051.8,1177.7 1053.9,1168.4 1056.1,1162.2 1058.2,1174.8 1060.3,1175.4 1062.4,1174.7 1064.6,1175.7 1066.7,1174.2 1068.8,1180.5 1070.9,1172.1 1073.1,1144.8 1075.2,1174.4 1077.3,1162.7 1079.4,1179.3 1081.6,1165.5 1083.7,1162.2 1085.8,1166.3 1087.9,1171.7 1090.1,1172.6 1092.2,1167.5 1094.3,1150.3 1096.4,1179.5 1098.6,1180.4 1100.7,1162.8 1102.8,1147.6 1105.0,1171.7 1107.1,1173.7 1109.2,1164.3 1111.3,1178.9 1113.5,1177.5 1115.6,1178.7 1117.7,1147.2 1119.8,1169.7 1122.0,1176.6 1124.1,1178.1 1126.2,1165.7 1128.3,1145.1 1130.5,1177.0 1132.6,1165.1 1134.7,1174.5 1136.8,1155.6 1139.0,1169.8 1141.1,1177.5 1143.2,1178.4 1145.3,1181.4 1147.5,1172.9 1149.6,1175.2 1151.7,1179.2 1153.8,1175.7 1156.0,1176.5 1158.1,1161.6 1160.2,1179.6 1162.4,1145.2 1164.5,1172.9 1166.6,1169.4 1168.7,1173.2 1170.9,1157.5 1173.0,1158.5 1175.1,1170.8 1177.2,1172.9 1179.4,1164.6 1181.5,1155.6 1183.6,1174.9 1185.7,1164.0 1187.9,1145.3 1190.0,1173.3 1192.1,1178.2 1194.2,1178.2 1196.4,1164.8 1198.5,1148.4 1200.6,1166.7 1202.7,1145.4 1204.9,1156.1 1207.0,1178.0" fill="none" stroke="#22e" stroke-width="1.3"/>
<use href="#tr" x="144.0" y="1178.3"/>
<use href="#tr" x="146.1" y="1171.7"/>
<use href="#tr" x="148.3" y="1175.9"/>
<use href="#tr" x="150.4" y="1169.9"/>
<use href="#tr" x="152.5" y="1169.2"/>
<use href="#tr" x="154.6" y="1180.9"/>
<use href="#tr" x="156.8" y="1158.1"/>
<use href="#tr" x="158.9" y="1181.6"/>
<use href="#tr" x="161.0" y="1158.5"/>
<use href="#tr" x="163.1" y="1177.9"/>
<use href="#tr" x="165.3" y="1178.3"/>
<use href="#tr" x="167.4" y="1145.9"/>
<use href="#tr" x="169.5" y="1173.6"/>
<use href="#tr" x="171.6" y="1158.4"/>
<use href="#tr" x="173.8" y="1173.4"/>
<use href="#tr" x="175.9" y="1154.5"/>
<use href="#tr" x="178.0" y="1168.6"/>
<use href="#tr" x="180.1" y="1179.6"/>
<use href="#tr" x="182.3" y="1168.7"/>
<use href="#tr" x="184.4" y="1155.5"/>
<use href="#tr" x="186.5" y="1172.2"/>
<use href="#tr" x="188.6" y="1164.2"/>
<use href="#tr" x="190.8" y="1167.3"/>
<use href="#tr" x="192.9" y="1180.9"/>
<use href="#tr" x="195.0" y="1163.3"/>
<use href="#tr" x="197.2" y="1170.1"/>
<use href="#tr" x="199.3" y="1142.4"/>
<use href="#tr" x="201.4" y="1177.1"/>
<use href="#tr" x="203.5" y="1181.3"/>
<use href="#tr" x="205.7" y="1155.6"/>
<use href="#tr" x="207.8" y="1173.4"/>
<use href="#tr" x="209.9" y="1165.2"/>
<use href="#tr" x="212.0" y="1154.1"/>
<use href="#tr" x="214.2" y="1165.4"/>
<use href="#tr" x="216.3" y="1148.5"/>
<use href="#tr" x="218.4" y="1175.2"/>
<use href="#tr" x="220.5" y="1154.5"/>
<use href="#tr" x="222.7" y="1160.5"/>
<use href="#tr" x="224.8" y="1174.0"/>
<use href="#tr" x="226.9" y="1145.7"/>
<use href="#tr" x="229.0" y="1153.9"/>
<use href="#tr" x="231.2" y="1180.4"/>
<use href="#tr" x="233.3" y="1179.8"/>
<use href="#tr" x="235.4" y="1178.5"/>
<use href="#tr" x="237.5" y="1145.5"/>
<use href="#tr" x="239.7" y="1174.2"/>
<use href="#tr" x="241.8" y="1148.4"/>
<use href="#tr" x="243.9" y="1168.7"/>
<use href="#tr" x="246.0" y="1177.0"/>
<use href="#tr" x="248.2" y="1172.4"/>
<use href="#tr" x="250.3" y="1175.3"/>
<use href="#tr" x="252.4" y="1176.0"/>
<use href="#tr" x="254.6" y="1170.0"/>
<use href="#tr" x="256.7" y="1170.1"/>
<use href="#tr" x="258.8" y="1161.7"/>
<use href="#tr" x="260.9" y="1150.5"/>
<use href="#tr" x="263.1" y="1166.5"/>
<use href="#tr" x="265.2" y="1146.4"/>
<use href="#tr" x="267.3" y="1155.8"/>
<use href="#tr" x="269.4" y="1145.3"/>
<use href="#tr" x="271.6" y="1166.8"/>
<use href="#tr" x="273.7" y="1179.4"/>
<use href="#tr" x="275.8" y="1155.3"/>
<use href="#tr" x="277.9" y="1145.3"/>
<use href="#tr" x="280.1" y="1142.4"/>
<use href="#tr" x="282.2" y="1150.1"/>
<use href="#tr" x="284.3" y="1170.4"/>
<use href="#tr" x="286.4" y="1164.9"/>
<use href="#tr" x="288.6" y="1178.5"/>
<use href="#tr" x="290.7" y="1157.7"/>
<use href="#tr" x="292.8" y="1170.2"/>
<use href="#tr" x="294.9" y="1177.2"/>
<use href="#tr" x="297.1" y="1180.9"/>
<use href="#tr" x="299.2" y="1155.7"/>
<use href="#tr" x="301.3" y="1145.2"/>
<use href="#tr" x="303.4" y="1180.5"/>
<use href="#tr" x="305.6" y="1159.9"/>
<use href="#tr" x="307.7" y="1153.3"/>
<use href="#tr" x="309.8" y="1174.6"/>
<use href="#tr" x="312.0" y="1179.5"/>
<use href="#tr" x="314.1" y="1177.0"/>
<use href="#tr" x="316.2" y="1161.8"/>
<use href="#tr" x="318.3" y="1153.6"/>
<use href="#tr" x="320.5" y="1181.1"/>
<use href="#tr" x="322.6" y="1168.7"/>
<use href="#tr" x="324.7" y="1181.1"/>
<use href="#tr" x="326.8" y="1164.4"/>
<use href="#tr" x="329.0" y="1176.2"/>
<use href="#tr" x="331.1" y="1152.6"/>
<use href="#tr" x="333.2" y="1145.0"/>
<use href="#tr" x="335.3" y="1154.5"/>
<use href="#tr" x="337.5" y="1172.1"/>
<use href="#tr" x="339.6" y="1145.0"/>
<use href="#tr" x="341.7" y="1176.6"/>
<use href="#tr" x="343.8" y="1180.6"/>
<use href="#tr" x="346.0" y="1169.1"/>
<use href="#tr" x="348.1" y="1181.3"/>
<use href="#tr" x="350.2" y="1178.7"/>
<use href="#tr" x="352.3" y="1174.5"/>
<use href="#tr" x="354.5" y="1168.7"/>
<use href="#tr" x="356.6" y="1179.4"/>
<use href="#tr" x="358.7" y="1181.1"/>
<use href="#tr" x="360.9" y="1153.7"/>
<use href="#tr" x="363.0" y="1176.5"/>
<use href="#tr" x="365.1" y="1144.8"/>
<use href="#tr" x="367.2" y="1150.2"/>
<use href="#tr" x="369.4" y="1175.1"/>
<use href="#tr" x="371.5" y="1173.2"/>
<use href="#tr" x="373.6" y="1171.5"/>
<use href="#tr" x="375.7" y="1167.4"/>
<use href="#tr" x="377.9" y="1169.1"/>
<use href="#tr" x="380.0" y="1168.2"/>
<use href="#tr" x="382.1" y="1163.3"/>
<use href="#tr" x="384.2" y="1137.0"/>
<use href="#tr" x="386.4" y="1164.6"/>
<use href="#tr" x="388.5" y="1166.6"/>
<use href="#tr" x="390.6" y="1144.3"/>
<use href="#tr" x="392.7" y="1173.1"/>
<use href="#tr" x="394.9" y="1118.1"/>
<use href="#tr" x="397.0" y="1169.2"/>
<use href="#tr" x="399.1" y="1130.3"/>
<use href="#tr" x="401.2" y="1147.6"/>
<use href="#tr" x="403.4" y="1146.7"/>
<use href="#tr" x="405.5" y="1144.8"/>
<use href="#tr" x="407.6" y="1158.7"/>
<use href="#tr" x="409.8" y="1134.0"/>
<use href="#tr" x="411.9" y="1123.8"/>
<use href="#tr" x="414.0" y="1139.4"/>
<use href="#tr" x="416.1" y="1120.5"/>
<use href="#tr" x="418.3" y="1143.7"/>
<use href="#tr" x="420.4" y="1143.4"/>
<use href="#tr" x="422.5" y="1181.1"/>
<use href="#tr" x="424.6" y="1149.4"/>
<use href="#tr" x="426.8" y="1149.1"/>
<use href="#tr" x="428.9" y="1142.8"/>
<use href="#tr" x="431.0" y="1148.5"/>
<use href="#tr" x="433.1" y="1142.0"/>
<use href="#tr" x="435.3" y="1119.3"/>
<use href="#tr" x="437.4" y="1156.0"/>
<use href="#tr" x="439.5" y="1125.3"/>
<use href="#tr" x="441.6" y="1127.5"/>
<use href="#tr" x="443.8" y="1143.8"/>
<use href="#tr" x="445.9" y="1148.9"/>
<use href="#tr" x="448.0" y="1121.6"/>
<use href="#tr" x="450.1" y="1101.3"/>
<use href="#tr" x="452.3" y="1129.0"/>
<use href="#tr" x="454.4" y="1121.5"/>
<use href="#tr" x="456.5" y="1119.7"/>
<use href="#tr" x="458.6" y="1095.1"/>
<use href="#tr" x="460.8" y="1119.3"/>
<use href="#tr" x="462.9" y="1090.2"/>
<use href="#tr" x="465.0" y="1089.0"/>
<use href="#tr" x="467.2" y="1074.3"/>
<use href="#tr" x="469.3" y="1094.6"/>
<use href="#tr" x="471.4" y="1067.2"/>
<use href="#tr" x="473.5" y="1080.7"/>
<use href="#tr" x="475.7" y="1082.1"/>
<use href="#tr" x="477.8" y="1097.5"/>
<use href="#tr" x="479.9" y="1100.2"/>
<use href="#tr" x="482.0" y="1080.4"/>
<use href="#tr" x="484.2" y="1067.9"/>
<use href="#tr" x="486.3" y="1042.9"/>
<use href="#tr" x="488.4" y="1046.4"/>
<use href="#tr" x="490.5" y="1061.9"/>
<use href="#tr" x="492.7" y="1031.9"/>
<use href="#tr" x="494.8" y="1013.3"/>
<use href="#tr" x="496.9" y="1034.0"/>
<use href="#tr" x="499.0" y="1035.6"/>
<use href="#tr" x="501.2" y="1029.4"/>
<use href="#tr" x="503.3" y="995.1"/>
<use href="#tr" x="505.4" y="981.2"/>
<use href="#tr" x="507.5" y="991.0"/>
<use href="#tr" x="509.7" y="1022.6"/>
<use href="#tr" x="511.8" y="1036.9"/>
<use href="#tr" x="513.9" y="979.1"/>
<use href="#tr" x="516.0" y="996.1"/>
<use href="#tr" x="518.2" y="996.2"/>
<use href="#tr" x="520.3" y="935.7"/>
<use href="#tr" x="522.4" y="935.1"/>
<use href="#tr" x="524.6" y="963.0"/>
<use href="#tr" x="526.7" y="910.9"/>
<use href="#tr" x="528.8" y="923.0"/>
<use href="#tr" x="530.9" y="886.6"/>
<use href="#tr" x="533.1" y="898.7"/>
<use href="#tr" x="535.2" y="860.0"/>
<use href="#tr" x="537.3" y="886.6"/>
<use href="#tr" x="539.4" y="909.6"/>
<use href="#tr" x="541.6" y="822.4"/>
<use href="#tr" x="543.7" y="909.6"/>
<use href="#tr" x="545.8" y="935.1"/>
<use href="#tr" x="547.9" y="937.5"/>
<use href="#tr" x="550.1" y="850.3"/>
<use href="#tr" x="552.2" y="868.4"/>
<use href="#tr" x="554.3" y="872.1"/>
<use href="#tr" x="556.4" y="843.0"/>
<use href="#tr" x="558.6" y="818.7"/>
<use href="#tr" x="560.7" y="777.5"/>
<use href="#tr" x="562.8" y="713.3"/>
<use href="#tr" x="564.9" y="746.0"/>
<use href="#tr" x="567.1" y="746.0"/>
<use href="#tr" x="569.2" y="771.5"/>
<use href="#tr" x="571.3" y="753.3"/>
<use href="#tr" x="573.5" y="741.2"/>
<use href="#tr" x="575.6" y="729.1"/>
<use href="#tr" x="577.7" y="695.1"/>
<use href="#tr" x="579.8" y="709.7"/>
<use href="#tr" x="582.0" y="793.3"/>
<use href="#tr" x="584.1" y="777.5"/>
<use href="#tr" x="586.2" y="741.2"/>
<use href="#tr" x="588.3" y="753.3"/>
<use href="#tr" x="590.5" y="760.6"/>
<use href="#tr" x="592.6" y="764.2"/>
<use href="#tr" x="594.7" y="729.1"/>
<use href="#tr" x="596.8" y="656.3"/>
<use href="#tr" x="599.0" y="668.5"/>
<use href="#tr" x="601.1" y="716.9"/>
<use href="#tr" x="603.2" y="692.7"/>
<use href="#tr" x="605.3" y="678.2"/>
<use href="#tr" x="607.5" y="573.9"/>
<use href="#tr" x="609.6" y="595.7"/>
<use href="#tr" x="611.7" y="674.5"/>
<use href="#tr" x="613.8" y="704.8"/>
<use href="#tr" x="616.0" y="716.9"/>
<use href="#tr" x="618.1" y="719.4"/>
<use href="#tr" x="620.2" y="735.1"/>
<use href="#tr" x="622.3" y="691.5"/>
<use href="#tr" x="624.5" y="692.7"/>
<use href="#tr" x="626.6" y="753.3"/>
<use href="#tr" x="628.7" y="789.7"/>
<use href="#tr" x="630.9" y="795.7"/>
<use href="#tr" x="633.0" y="771.5"/>
<use href="#tr" x="635.1" y="740.0"/>
<use href="#tr" x="637.2" y="826.0"/>
<use href="#tr" x="639.4" y="813.9"/>
<use href="#tr" x="641.5" y="838.1"/>
<use href="#tr" x="643.6" y="834.5"/>
<use href="#tr" x="645.7" y="850.3"/>
<use href="#tr" x="647.9" y="870.9"/>
<use href="#tr" x="650.0" y="867.2"/>
<use href="#tr" x="652.1" y="869.7"/>
<use href="#tr" x="654.2" y="903.6"/>
<use href="#tr" x="656.4" y="958.1"/>
<use href="#tr" x="658.5" y="922.6"/>
<use href="#tr" x="660.6" y="976.3"/>
<use href="#tr" x="662.7" y="964.8"/>
<use href="#tr" x="664.9" y="964.3"/>
<use href="#tr" x="667.0" y="971.5"/>
<use href="#tr" x="669.1" y="1030.8"/>
<use href="#tr" x="671.2" y="1018.9"/>
<use href="#tr" x="673.4" y="1014.4"/>
<use href="#tr" x="675.5" y="1004.0"/>
<use href="#tr" x="677.6" y="1063.6"/>
<use href="#tr" x="679.8" y="996.9"/>
<use href="#tr" x="681.9" y="1030.7"/>
<use href="#tr" x="684.0" y="1027.7"/>
<use href="#tr" x="686.1" y="1039.2"/>
<use href="#tr" x="688.3" y="1043.0"/>
<use href="#tr" x="690.4" y="1057.5"/>
<use href="#tr" x="692.5" y="1092.8"/>
<use href="#tr" x="694.6" y="1063.1"/>
<use href="#tr" x="696.8" y="1091.9"/>
<use href="#tr" x="698.9" y="1068.1"/>
<use href="#tr" x="701.0" y="1072.5"/>
<use href="#tr" x="703.1" y="1085.4"/>
<use href="#tr" x="705.3" y="1089.9"/>
<use href="#tr" x="707.4" y="1112.6"/>
<use href="#tr" x="709.5" y="1112.9"/>
<use href="#tr" x="711.6" y="1091.1"/>
<use href="#tr" x="713.8" y="1112.1"/>
<use href="#tr" x="715.9" y="1128.4"/>
<use href="#tr" x="718.0" y="1108.8"/>
<use href="#tr" x="720.1" y="1109.8"/>
<use href="#tr" x="722.3" y="1123.8"/>
<use href="#tr" x="724.4" y="1094.8"/>
<use href="#tr" x="726.5" y="1120.6"/>
<use href="#tr" x="728.6" y="1097.7"/>
<use href="#tr" x="730.8" y="1147.2"/>
<use href="#tr" x="732.9" y="1150.3"/>
<use href="#tr" x="735.0" y="1151.3"/>
<use href="#tr" x="737.2" y="1112.8"/>
<use href="#tr" x="739.3" y="1119.4"/>
<use href="#tr" x="741.4" y="1134.5"/>
<use href="#tr" x="743.5" y="1131.3"/>
<use href="#tr" x="745.7" y="1155.0"/>
<use href="#tr" x="747.8" y="1123.0"/>
<use href="#tr" x="749.9" y="1141.9"/>
<use href="#tr" x="752.0" y="1148.5"/>
<use href="#tr" x="754.2" y="1137.3"/>
<use href="#tr" x="756.3" y="1122.0"/>
<use href="#tr" x="758.4" y="1134.8"/>
<use href="#tr" x="760.5" y="1131.0"/>
<use href="#tr" x="762.7" y="1147.3"/>
<use href="#tr" x="764.8" y="1144.6"/>
<use href="#tr" x="766.9" y="1138.0"/>
<use href="#tr" x="769.0" y="1144.5"/>
<use href="#tr" x="771.2" y="1124.5"/>
<use href="#tr" x="773.3" y="1154.6"/>
<use href="#tr" x="775.4" y="1122.6"/>
<use href="#tr" x="777.5" y="1157.9"/>
<use href="#tr" x="779.7" y="1136.3"/>
<use href="#tr" x="781.8" y="1151.1"/>
<use href="#tr" x="783.9" y="1174.7"/>
<use href="#tr" x="786.1" y="1137.9"/>
<use href="#tr" x="788.2" y="1170.0"/>
<use href="#tr" x="790.3" y="1165.7"/>
<use href="#tr" x="792.4" y="1146.7"/>
<use href="#tr" x="794.6" y="1155.9"/>
<use href="#tr" x="796.7" y="1161.5"/>
<use href="#tr" x="798.8" y="1136.3"/>
<use href="#tr" x="800.9" y="1135.1"/>
<use href="#tr" x="803.1" y="1152.1"/>
<use href="#tr" x="805.2" y="1165.1"/>
<use href="#tr" x="807.3" y="1168.2"/>
<use href="#tr" x="809.4" y="1136.3"/>
<use href="#tr" x="811.6" y="1160.3"/>
<use href="#tr" x="813.7" y="1140.9"/>
<use href="#tr" x="815.8" y="1165.5"/>
<use href="#tr" x="817.9" y="1170.3"/>
<use href="#tr" x="820.1" y="1158.8"/>
<use href="#tr" x="822.2" y="1139.5"/>
<use href="#tr" x="824.3" y="1171.2"/>
<use href="#tr" x="826.4" y="1143.3"/>
<use href="#tr" x="828.6" y="1136.3"/>
<use href="#tr" x="830.7" y="1142.9"/>
<use href="#tr" x="832.8" y="1141.6"/>
<use href="#tr" x="834.9" y="1174.9"/>
<use href="#tr" x="837.1" y="1156.6"/>
<use href="#tr" x="839.2" y="1138.7"/>
<use href="#tr" x="841.3" y="1174.2"/>
<use href="#tr" x="843.5" y="1169.5"/>
<use href="#tr" x="845.6" y="1169.6"/>
<use href="#tr" x="847.7" y="1162.3"/>
<use href="#tr" x="849.8" y="1165.9"/>
<use href="#tr" x="852.0" y="1164.7"/>
<use href="#tr" x="854.1" y="1150.6"/>
<use href="#tr" x="856.2" y="1176.2"/>
<use href="#tr" x="858.3" y="1175.6"/>
<use href="#tr" x="860.5" y="1174.7"/>
<use href="#tr" x="862.6" y="1175.1"/>
<use href="#tr" x="864.7" y="1176.5"/>
<use href="#tr" x="866.8" y="1138.5"/>
<use href="#tr" x="869.0" y="1146.8"/>
<use href="#tr" x="871.1" y="1177.3"/>
<use href="#tr" x="873.2" y="1167.8"/>
<use href="#tr" x="875.3" y="1173.4"/>
<use href="#tr" x="877.5" y="1158.1"/>
<use href="#tr" x="879.6" y="1174.2"/>
<use href="#tr" x="881.7" y="1173.7"/>
<use href="#tr" x="883.8" y="1164.4"/>
<use href="#tr" x="886.0" y="1167.4"/>
<use href="#tr" x="888.1" y="1174.7"/>
<use href="#tr" x="890.2" y="1178.4"/>
<use href="#tr" x="892.4" y="1175.6"/>
<use href="#tr" x="894.5" y="1179.7"/>
<use href="#tr" x="896.6" y="1169.4"/>
<use href="#tr" x="898.7" y="1162.7"/>
<use href="#tr" x="900.9" y="1174.6"/>
<use href="#tr" x="903.0" y="1180.5"/>
<use href="#tr" x="905.1" y="1178.8"/>
<use href="#tr" x="907.2" y="1174.9"/>
<use href="#tr" x="909.4" y="1168.3"/>
<use href="#tr" x="911.5" y="1159.6"/>
<use href="#tr" x="913.6" y="1174.8"/>
<use href="#tr" x="915.7" y="1158.3"/>
<use href="#tr" x="917.9" y="1155.7"/>
<use href="#tr" x="920.0" y="1167.6"/>
<use href="#tr" x="922.1" y="1173.6"/>
<use href="#tr" x="924.2" y="1175.0"/>
<use href="#tr" x="926.4" y="1171.8"/>
<use href="#tr" x="928.5" y="1164.2"/>
<use href="#tr" x="930.6" y="1173.9"/>
<use href="#tr" x="932.7" y="1164.6"/>
<use href="#tr" x="934.9" y="1172.8"/>
<use href="#tr" x="937.0" y="1177.7"/>
<use href="#tr" x="939.1" y="1170.7"/>
<use href="#tr" x="941.2" y="1164.6"/>
<use href="#tr" x="943.4" y="1180.7"/>
<use href="#tr" x="945.5" y="1173.8"/>
<use href="#tr" x="947.6" y="1173.8"/>
<use href="#tr" x="949.8" y="1151.3"/>
<use href="#tr" x="951.9" y="1144.3"/>
<use href="#tr" x="954.0" y="1175.0"/>
<use href="#tr" x="956.1" y="1149.0"/>
<use href="#tr" x="958.3" y="1159.3"/>
<use href="#tr" x="960.4" y="1177.4"/>
<use href="#tr" x="962.5" y="1172.8"/>
<use href="#tr" x="964.6" y="1179.9"/>
<use href="#tr" x="966.8" y="1157.7"/>
<use href="#tr" x="968.9" y="1166.2"/>
<use href="#tr" x="971.0" y="1150.5"/>
<use href="#tr" x="973.1" y="1159.3"/>
<use href="#tr" x="975.3" y="1166.0"/>
<use href="#tr" x="977.4" y="1162.9"/>
<use href="#tr" x="979.5" y="1169.9"/>
<use href="#tr" x="981.6" y="1180.2"/>
<use href="#tr" x="983.8" y="1169.1"/>
<use href="#tr" x="985.9" y="1181.7"/>
<use href="#tr" x="988.0" y="1179.5"/>
<use href="#tr" x="990.1" y="1160.6"/>
<use href="#tr" x="992.3" y="1181.1"/>
<use href="#tr" x="994.4" y="1180.4"/>
<use href="#tr" x="996.5" y="1152.0"/>
<use href="#tr" x="998.7" y="1180.3"/>
<use href="#tr" x="1000.8" y="1151.6"/>
<use href="#tr" x="1002.9" y="1178.9"/>
<use href="#tr" x="1005.0" y="1181.4"/>
<use href="#tr" x="1007.2" y="1155.7"/>
<use href="#tr" x="1009.3" y="1179.9"/>
<use href="#tr" x="1011.4" y="1155.5"/>
<use href="#tr" x="1013.5" y="1165.9"/>
<use href="#tr" x="1015.7" y="1156.2"/>
<use href="#tr" x="1017.8" y="1144.6"/>
<use href="#tr" x="1019.9" y="1169.5"/>
<use href="#tr" x="1022.0" y="1159.2"/>
<use href="#tr" x="1024.2" y="1181.2"/>
<use href="#tr" x="1026.3" y="1161.2"/>
<use href="#tr" x="1028.4" y="1171.7"/>
<use href="#tr" x="1030.5" y="1164.1"/>
<use href="#tr" x="1032.7" y="1180.2"/>
<use href="#tr" x="1034.8" y="1162.3"/>
<use href="#tr" x="1036.9" y="1144.7"/>
<use href="#tr" x="1039.0" y="1180.9"/>
<use href="#tr" x="1041.2" y="1176.3"/>
<use href="#tr" x="1043.3" y="1170.1"/>
<use href="#tr" x="1045.4" y="1157.1"/>
<use href="#tr" x="1047.5" y="1177.9"/>
<use href="#tr" x="1049.7" y="1179.0"/>
<use href="#tr" x="1051.8" y="1177.7"/>
<use href="#tr" x="1053.9" y="1168.4"/>
<use href="#tr" x="1056.1" y="1162.2"/>
<use href="#tr" x="1058.2" y="1174.8"/>
<use href="#tr" x="1060.3" y="1175.4"/>
<use href="#tr" x="1062.4" y="1174.7"/>
<use href="#tr" x="1064.6" y="1175.7"/>
<use href="#tr" x="1066.7" y="1174.2"/>
<use href="#tr" x="1068.8" y="1180.5"/>
<use href="#tr" x="1070.9" y="1172.1"/>
<use href="#tr" x="1073.1" y="1144.8"/>
<use href="#tr" x="1075.2" y="1174.4"/>
<use href="#tr" x="1077.3" y="1162.7"/>
<use href="#tr" x="1079.4" y="1179.3"/>
<use href="#tr" x="1081.6" y="1165.5"/>
<use href="#tr" x="1083.7" y="1162.2"/>
<use href="#tr" x="1085.8" y="1166.3"/>
<use href="#tr" x="1087.9" y="1171.7"/>
<use href="#tr" x="1090.1" y="1172.6"/>
<use href="#tr" x="1092.2" y="1167.5"/>
<use href="#tr" x="1094.3" y="1150.3"/>
<use href="#tr" x="1096.4" y="1179.5"/>
<use href="#tr" x="1098.6" y="1180.4"/>
<use href="#tr" x="1100.7" y="1162.8"/>
<use href="#tr" x="1102.8" y="1147.6"/>
<use href="#tr" x="1105.0" y="1171.7"/>
<use href="#tr" x="1107.1" y="1173.7"/>
<use href="#tr" x="1109.2" y="1164.3"/>
<use href="#tr" x="1111.3" y="1178.9"/>
<use href="#tr" x="1113.5" y="1177.5"/>
<use href="#tr" x="1115.6" y="1178.7"/>
<use href="#tr" x="1117.7" y="1147.2"/>
<use href="#tr" x="1119.8" y="1169.7"/>
<use href="#tr" x="1122.0" y="1176.6"/>
<use href="#tr" x="1124.1" y="1178.1"/>
<use href="#tr" x="1126.2" y="1165.7"/>
<use href="#tr" x="1128.3" y="1145.1"/>
<use href="#tr" x="1130.5" y="1177.0"/>
<use href="#tr" x="1132.6" y="1165.1"/>
<use href="#tr" x="1134.7" y="1174.5"/>
<use href="#tr" x="1136.8" y="1155.6"/>
<use href="#tr" x="1139.0" y="1169.8"/>
<use href="#tr" x="1141.1" y="1177.5"/>
<use href="#tr" x="1143.2" y="1178.4"/>
<use href="#tr" x="1145.3" y="1181.4"/>
<use href="#tr" x="1147.5" y="1172.9"/>
<use href="#tr" x="1149.6" y="1175.2"/>
<use href="#tr" x="1151.7" y="1179.2"/>
<use href="#tr" x="1153.8" y="1175.7"/>
<use href="#tr" x="1156.0" y="1176.5"/>
<use href="#tr" x="1158.1" y="1161.6"/>
<use href="#tr" x="1160.2" y="1179.6"/>
<use href="#tr" x="1162.4" y="1145.2"/>
<use href="#tr" x="1164.5" y="1172.9"/>
<use href="#tr" x="1166.6" y="1169.4"/>
<use href="#tr" x="1168.7" y="1173.2"/>
<use href="#tr" x="1170.9" y="1157.5"/>
<use href="#tr" x="1173.0" y="1158.5"/>
<use href="#tr" x="1175.1" y="1170.8"/>
<use href="#tr" x="1177.2" y="1172.9"/>
<use href="#tr" x="1179.4" y="1164.6"/>
<use href="#tr" x="1181.5" y="1155.6"/>
<use href="#tr" x="1183.6" y="1174.9"/>
<use href="#tr" x="1185.7" y="1164.0"/>
<use href="#tr" x="1187.9" y="1145.3"/>
<use href="#tr" x="1190.0" y="1173.3"/>
<use href="#tr" x="1192.1" y="1178.2"/>
<use href="#tr" x="1194.2" y="1178.2"/>
<use href="#tr" x="1196.4" y="1164.8"/>
<use href="#tr" x="1198.5" y="1148.4"/>
<use href="#tr" x="1200.6" y="1166.7"/>
<use href="#tr" x="1202.7" y="1145.4"/>
<use href="#tr" x="1204.9" y="1156.1"/>
<use href="#tr" x="1207.0" y="1178.0"/>
</g>
<rect x="144" y="449.6" width="1062.5" height="791.4" fill="none" stroke="#000" stroke-width="3"/>
<text x="104.34" y="1296.5" font-family="&apos;Liberation Serif&apos;, serif" font-size="52" fill="#000" stroke="#000" stroke-width="0.35" textLength="76.83" lengthAdjust="spacingAndGlyphs" >300</text>
<text x="318.43" y="1296.5" font-family="&apos;Liberation Serif&apos;, serif" font-size="52" fill="#000" stroke="#000" stroke-width="0.35" textLength="75.30" lengthAdjust="spacingAndGlyphs" >400</text>
<text x="529.02" y="1296.5" font-family="&apos;Liberation Serif&apos;, serif" font-size="52" fill="#000" stroke="#000" stroke-width="0.35" textLength="77.36" lengthAdjust="spacingAndGlyphs" >500</text>
<text x="742.44" y="1296.5" font-family="&apos;Liberation Serif&apos;, serif" font-size="52" fill="#000" stroke="#000" stroke-width="0.35" textLength="76.52" lengthAdjust="spacingAndGlyphs" >600</text>
<text x="953.81" y="1296.5" font-family="&apos;Liberation Serif&apos;, serif" font-size="52" fill="#000" stroke="#000" stroke-width="0.35" textLength="77.79" lengthAdjust="spacingAndGlyphs" >700</text>
<text x="1167.84" y="1296.5" font-family="&apos;Liberation Serif&apos;, serif" font-size="52" fill="#000" stroke="#000" stroke-width="0.35" textLength="76.31" lengthAdjust="spacingAndGlyphs" >800</text>
<text x="101.97" y="1192.1" font-family="&apos;Liberation Serif&apos;, serif" font-size="52" fill="#000" stroke="#000" stroke-width="0.35" textLength="26.35" lengthAdjust="spacingAndGlyphs" >0</text>
<text x="75.04" y="949.7" font-family="&apos;Liberation Serif&apos;, serif" font-size="52" fill="#000" stroke="#000" stroke-width="0.35" textLength="53.31" lengthAdjust="spacingAndGlyphs" >20</text>
<text x="76.40" y="707.3" font-family="&apos;Liberation Serif&apos;, serif" font-size="52" fill="#000" stroke="#000" stroke-width="0.35" textLength="51.89" lengthAdjust="spacingAndGlyphs" >40</text>
<text x="75.15" y="464.9" font-family="&apos;Liberation Serif&apos;, serif" font-size="52" fill="#000" stroke="#000" stroke-width="0.35" textLength="53.20" lengthAdjust="spacingAndGlyphs" >60</text>
<text x="473.38" y="1369.7" font-family="&apos;Liberation Serif&apos;, serif" font-size="58.5" fill="#000" textLength="404.20" lengthAdjust="spacingAndGlyphs" >Channel Number</text>
<text transform="rotate(-90)" x="-953.23" y="70.8" font-family="&apos;Liberation Serif&apos;, serif" font-size="62" fill="#000" stroke="#000" stroke-width="0.0" textLength="171.08" lengthAdjust="spacingAndGlyphs">Counts</text>
<text x="158.00" y="519" font-family="&apos;Liberation Serif&apos;, serif" font-size="57.5" fill="#000" textLength="529.60" lengthAdjust="spacingAndGlyphs" >Alpha spectra at 300V-</text>
<text x="687.27" y="493.8" font-family="&apos;Liberation Serif&apos;, serif" font-size="32" fill="#000" textLength="52.56" lengthAdjust="spacingAndGlyphs" >239</text>
<text x="740.01" y="518.8" font-family="&apos;Liberation Serif&apos;, serif" font-size="57.5" fill="#000" textLength="388.53" lengthAdjust="spacingAndGlyphs" >Pu alpha-particle</text>
<line x1="158.5" y1="566.3" x2="257" y2="566.3" stroke="#444" stroke-width="1.5"/>
<use href="#sq" x="207.5" y="566.5"/>
<line x1="158.5" y1="636.2" x2="257" y2="636.2" stroke="#f44" stroke-width="1.5"/>
<circle cx="207.8" cy="636.2" r="11.7" fill="#fff" stroke="#d80000" stroke-width="2.5"/>
<line x1="158.5" y1="706.2" x2="257" y2="706.2" stroke="#44f" stroke-width="1.5"/>
<use href="#tr" x="207.5" y="706.2"/>
<text x="279.69" y="580.8" font-family="&apos;Liberation Serif&apos;, serif" font-size="46" fill="#000" textLength="270.27" lengthAdjust="spacingAndGlyphs" >pre-irradiation</text>
<text x="269.95" y="651.5" font-family="&apos;Liberation Serif&apos;, serif" font-size="46" fill="#000" textLength="151.37" lengthAdjust="spacingAndGlyphs" >1.31*10</text>
<text x="268.23" y="721.5" font-family="&apos;Liberation Serif&apos;, serif" font-size="46" fill="#000" textLength="153.11" lengthAdjust="spacingAndGlyphs" >7.29*10</text>
<text x="422.97" y="624.5" font-family="&apos;Liberation Serif&apos;, serif" font-size="23.5" fill="#000" textLength="24.95" lengthAdjust="spacingAndGlyphs" >14</text>
<text x="449.80" y="651.5" font-family="&apos;Liberation Serif&apos;, serif" font-size="46" fill="#000" textLength="71.30" lengthAdjust="spacingAndGlyphs" >/cm</text>
<text x="520.32" y="624.5" font-family="&apos;Liberation Serif&apos;, serif" font-size="23.5" fill="#000" textLength="13.85" lengthAdjust="spacingAndGlyphs" >2</text>
<text x="422.97" y="694.5" font-family="&apos;Liberation Serif&apos;, serif" font-size="23.5" fill="#000" textLength="24.95" lengthAdjust="spacingAndGlyphs" >14</text>
<text x="449.80" y="721.5" font-family="&apos;Liberation Serif&apos;, serif" font-size="46" fill="#000" textLength="71.30" lengthAdjust="spacingAndGlyphs" >/cm</text>
<text x="520.32" y="694.5" font-family="&apos;Liberation Serif&apos;, serif" font-size="23.5" fill="#000" textLength="13.85" lengthAdjust="spacingAndGlyphs" >2</text>
</svg></body></html>
